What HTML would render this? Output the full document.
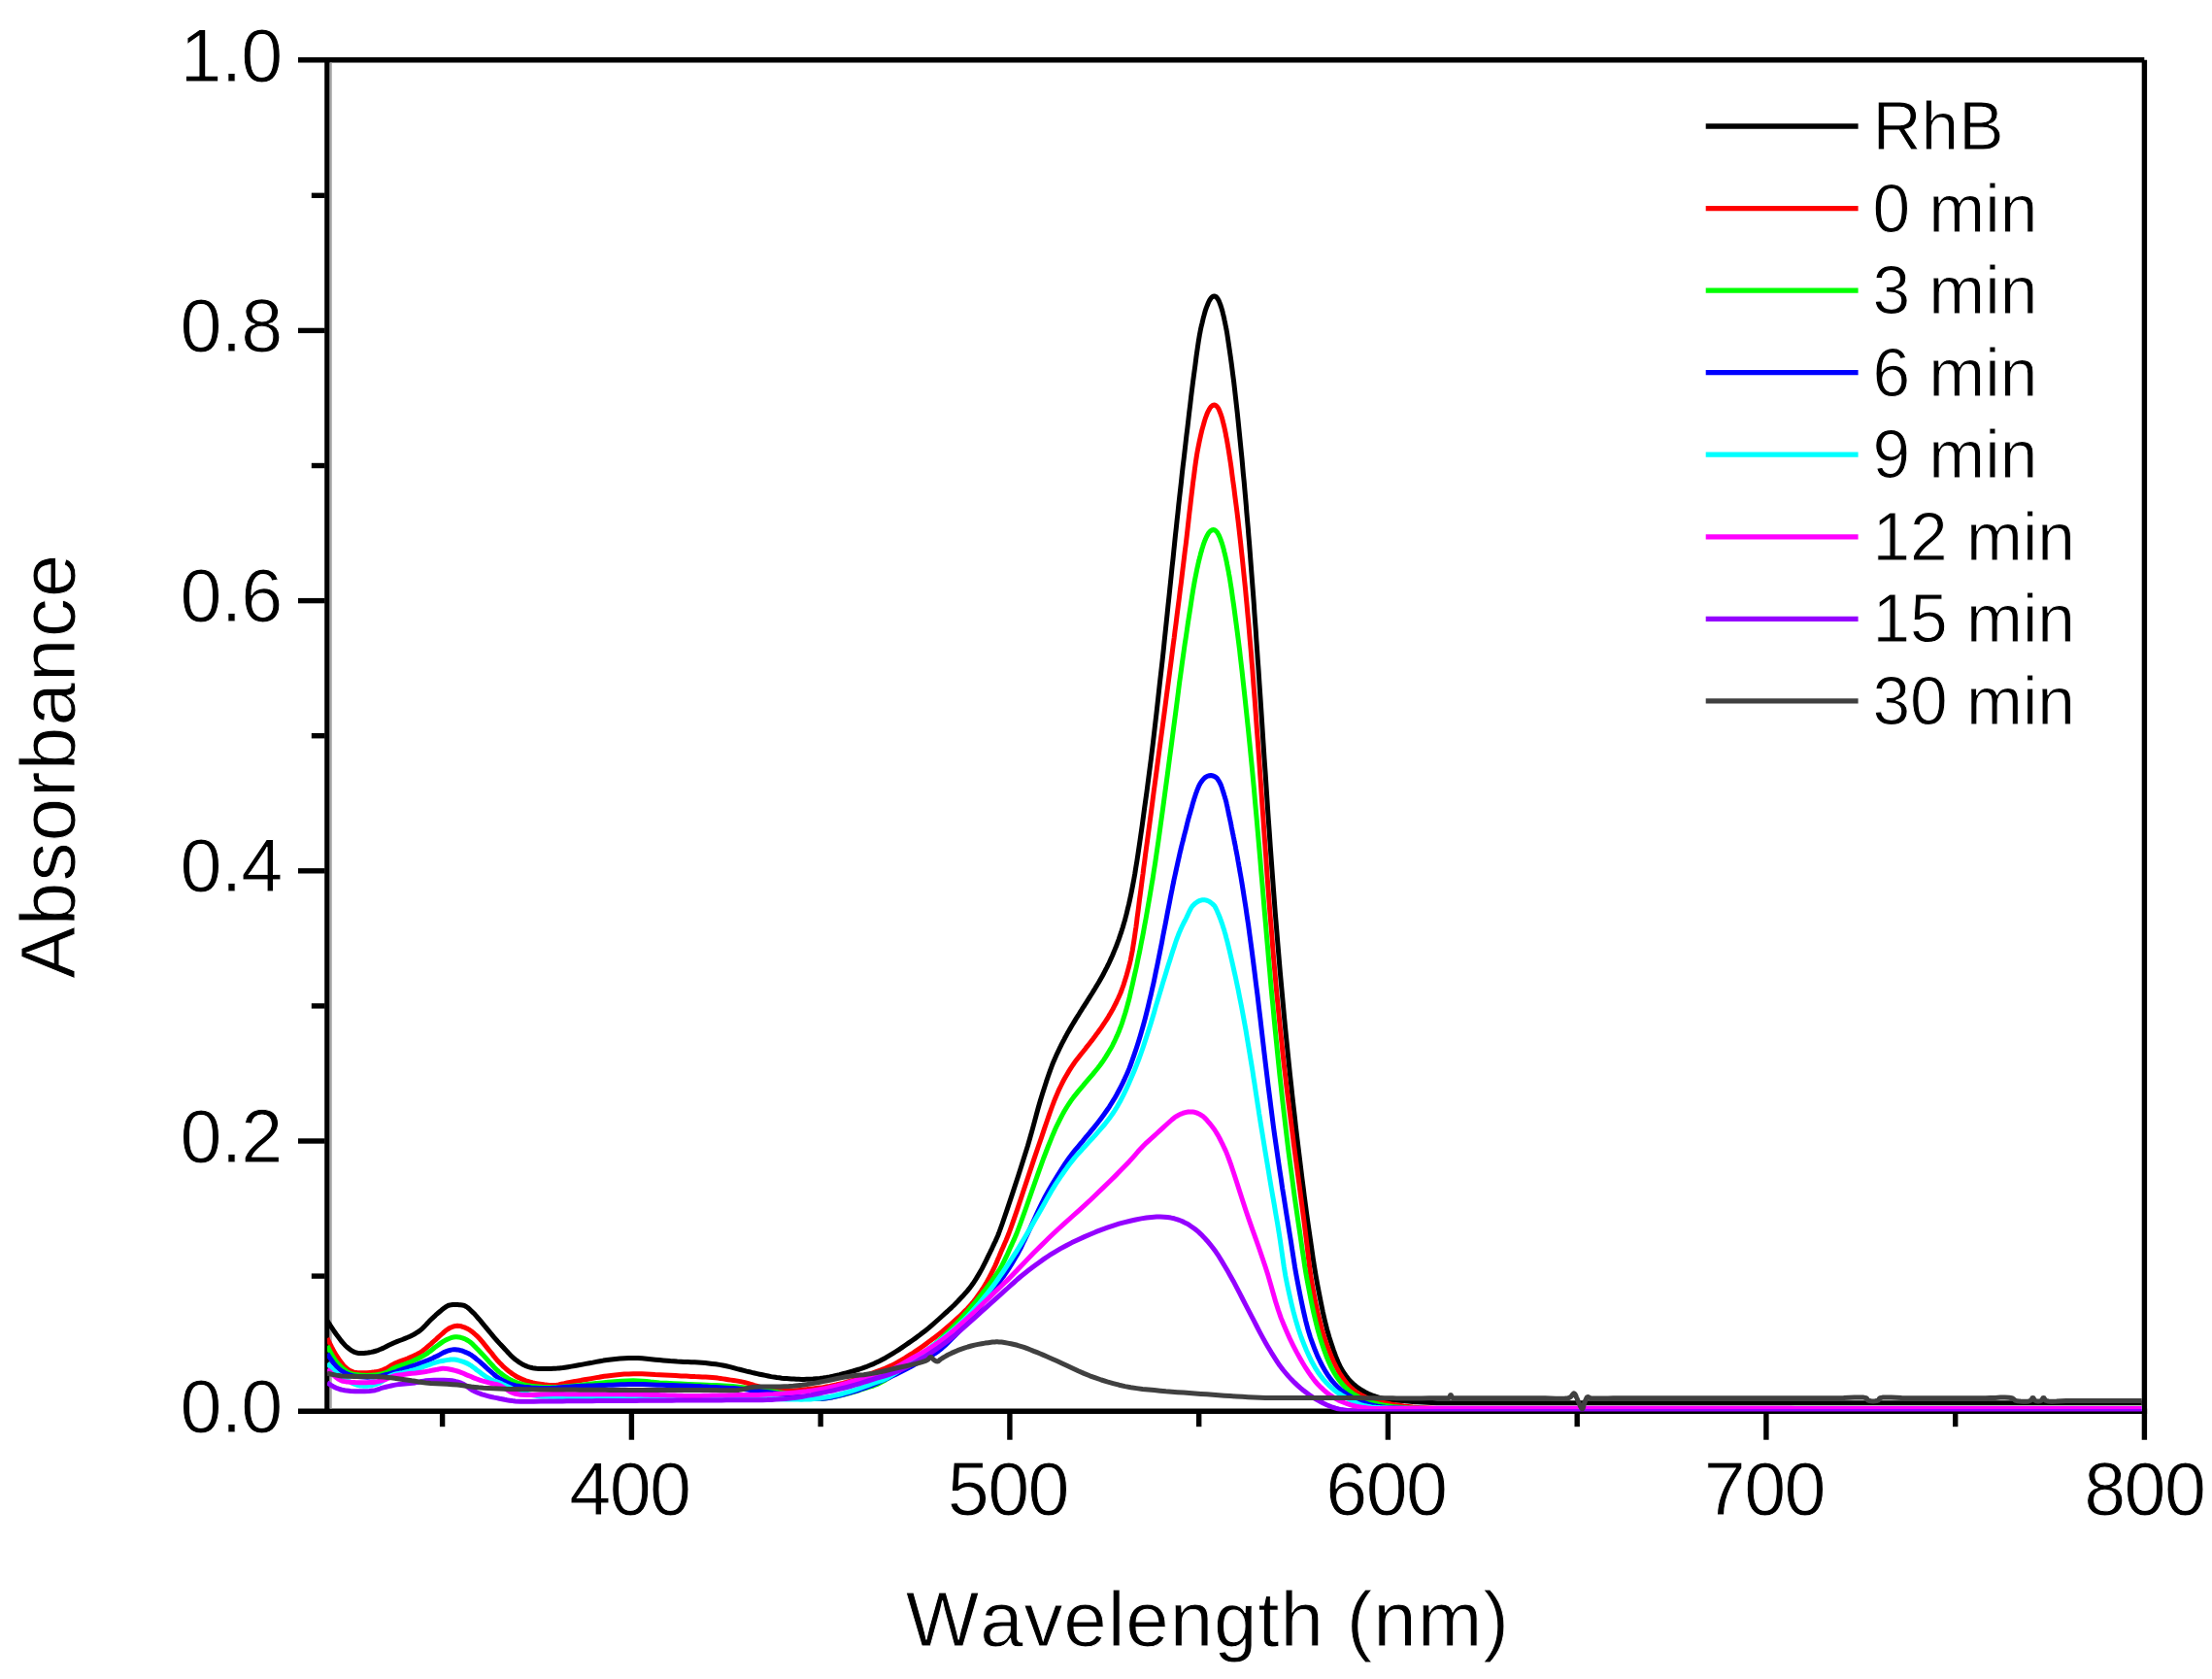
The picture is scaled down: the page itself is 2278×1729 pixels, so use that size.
<!DOCTYPE html>
<html lang="en"><head><meta charset="utf-8"><title>UV-Vis absorbance spectra of RhB degradation</title>
<style>html,body{margin:0;padding:0;background:#fff;}svg{display:block;}text{font-family:"Liberation Sans",sans-serif;fill:#000;}text{stroke:#fff;stroke-width:0.9px;}.tk{font-size:77.3px;}.lg{font-size:69.5px;}.ti{font-size:80px;font-kerning:none;}.ax{stroke:#000;stroke-width:5.4;fill:none;stroke-linecap:butt;}.cv{fill:none;stroke-width:5.0;stroke-linejoin:round;stroke-linecap:butt;}</style></head><body>
<svg width="2278" height="1729" viewBox="0 0 2278 1729">
<rect x="0" y="0" width="2278" height="1729" fill="#ffffff"/>
<defs><clipPath id="plot"><rect x="336.9" y="64.5" width="1868.8" height="1389.1"/></clipPath></defs>
<g class="ax">
<line x1="307" y1="61.8" x2="2208.3" y2="61.8"/>
<line x1="307" y1="1453.25" x2="2211.1" y2="1453.25"/>
<line x1="336.9" y1="61.8" x2="336.9" y2="1453.25"/>
<line x1="2208.4" y1="61.8" x2="2208.4" y2="1482.7"/>
<line x1="320.8" y1="1314.1" x2="334.5" y2="1314.1"/>
<line x1="307" y1="1175.0" x2="334.5" y2="1175.0"/>
<line x1="320.8" y1="1035.9" x2="334.5" y2="1035.9"/>
<line x1="307" y1="896.8" x2="334.5" y2="896.8"/>
<line x1="320.8" y1="757.7" x2="334.5" y2="757.7"/>
<line x1="307" y1="618.6" x2="334.5" y2="618.6"/>
<line x1="320.8" y1="479.5" x2="334.5" y2="479.5"/>
<line x1="307" y1="340.4" x2="334.5" y2="340.4"/>
<line x1="320.8" y1="201.3" x2="334.5" y2="201.3"/>
<line x1="455.6" y1="1455" x2="455.6" y2="1469.2"/>
<line x1="650.4" y1="1455" x2="650.4" y2="1482.7"/>
<line x1="845.1" y1="1455" x2="845.1" y2="1469.2"/>
<line x1="1039.9" y1="1455" x2="1039.9" y2="1482.7"/>
<line x1="1234.7" y1="1455" x2="1234.7" y2="1469.2"/>
<line x1="1429.4" y1="1455" x2="1429.4" y2="1482.7"/>
<line x1="1624.2" y1="1455" x2="1624.2" y2="1469.2"/>
<line x1="1818.9" y1="1455" x2="1818.9" y2="1482.7"/>
<line x1="2013.7" y1="1455" x2="2013.7" y2="1469.2"/>
</g>
<rect x="339.6" y="64.5" width="2.2" height="1386" fill="#a8a8a8"/>
<g class="cv" clip-path="url(#plot)">
<polyline stroke="#000000" points="337.0,1360.0 338.5,1362.3 340.0,1364.7 341.6,1367.1 343.1,1369.4 344.7,1371.7 346.3,1374.0 348.0,1376.3 349.7,1378.6 351.5,1381.0 353.4,1383.2 355.2,1385.2 357.1,1387.0 358.7,1388.3 360.2,1389.5 361.8,1390.6 363.5,1391.6 365.1,1392.4 366.9,1393.0 368.8,1393.4 370.7,1393.6 372.8,1393.6 374.8,1393.4 376.8,1393.2 378.8,1393.0 380.6,1392.7 382.4,1392.4 384.2,1392.0 386.0,1391.5 387.8,1391.0 389.7,1390.3 392.2,1389.3 394.9,1388.1 397.6,1386.7 400.4,1385.3 403.2,1384.0 405.9,1382.7 408.6,1381.6 411.5,1380.5 414.3,1379.5 417.0,1378.4 419.7,1377.3 422.2,1376.2 424.2,1375.2 426.1,1374.2 427.9,1373.2 429.6,1372.1 431.4,1371.0 433.1,1369.7 435.0,1368.1 436.8,1366.3 438.6,1364.4 440.3,1362.5 442.1,1360.6 443.9,1358.8 445.7,1357.1 447.6,1355.4 449.4,1353.6 451.3,1352.0 453.1,1350.5 454.8,1349.1 456.1,1348.1 457.4,1347.1 458.6,1346.2 459.8,1345.4 461.1,1344.7 462.4,1344.2 463.6,1343.9 464.9,1343.7 466.1,1343.6 467.4,1343.5 468.7,1343.6 470.0,1343.6 471.4,1343.6 472.9,1343.7 474.3,1343.7 475.8,1343.9 477.2,1344.2 478.6,1344.7 480.1,1345.5 481.6,1346.5 483.0,1347.7 484.4,1349.0 485.8,1350.4 487.3,1351.8 489.1,1353.6 490.9,1355.6 492.7,1357.8 494.6,1359.9 496.4,1362.1 498.2,1364.3 500.0,1366.5 501.8,1368.6 503.6,1370.8 505.4,1373.0 507.2,1375.2 509.0,1377.3 510.8,1379.3 512.6,1381.4 514.4,1383.4 516.2,1385.3 518.1,1387.3 519.9,1389.2 521.7,1391.1 523.4,1393.0 525.2,1394.9 527.0,1396.7 528.8,1398.4 530.7,1400.0 532.5,1401.3 534.2,1402.6 536.0,1403.7 537.9,1404.8 539.7,1405.8 541.6,1406.6 543.3,1407.3 545.1,1407.8 546.8,1408.3 548.6,1408.7 550.4,1409.0 552.4,1409.3 555.1,1409.5 558.1,1409.6 561.1,1409.6 564.2,1409.5 567.2,1409.4 570.0,1409.3 572.0,1409.2 573.9,1409.1 575.8,1408.9 577.6,1408.7 579.6,1408.5 581.7,1408.2 584.9,1407.7 588.4,1407.1 592.1,1406.5 595.9,1405.8 599.7,1405.1 603.4,1404.4 607.0,1403.7 610.5,1403.1 614.1,1402.4 617.7,1401.7 621.3,1401.1 625.1,1400.6 629.4,1400.1 633.9,1399.5 638.5,1399.1 643.1,1398.7 647.6,1398.5 652.2,1398.4 656.8,1398.5 661.3,1398.8 665.9,1399.3 670.5,1399.7 675.0,1400.2 679.3,1400.6 683.1,1400.9 686.7,1401.2 690.3,1401.5 693.9,1401.7 697.4,1402.0 701.0,1402.2 704.6,1402.4 708.2,1402.5 711.9,1402.7 715.5,1402.8 719.1,1403.0 722.7,1403.3 726.3,1403.6 729.9,1404.0 733.6,1404.4 737.2,1404.8 740.8,1405.4 744.4,1406.0 748.1,1406.8 751.8,1407.6 755.5,1408.6 759.1,1409.6 762.7,1410.5 766.1,1411.4 768.9,1412.1 771.7,1412.7 774.3,1413.4 777.0,1414.0 779.7,1414.6 782.4,1415.2 785.3,1415.8 788.3,1416.4 791.2,1417.0 794.2,1417.6 797.1,1418.1 800.0,1418.5 802.6,1418.8 805.1,1419.2 807.5,1419.4 810.0,1419.6 812.5,1419.8 815.0,1420.0 817.6,1420.1 820.1,1420.3 822.7,1420.3 825.3,1420.4 828.0,1420.4 830.7,1420.3 833.9,1420.2 837.3,1420.0 840.7,1419.7 844.2,1419.4 847.6,1419.0 851.0,1418.5 854.4,1417.9 857.8,1417.2 861.2,1416.4 864.6,1415.6 868.0,1414.7 871.4,1413.8 874.8,1412.9 878.2,1412.0 881.6,1411.0 885.0,1410.0 888.3,1408.9 891.7,1407.7 895.1,1406.3 898.6,1404.9 902.0,1403.3 905.4,1401.7 908.7,1400.0 912.1,1398.2 915.5,1396.2 918.9,1394.2 922.3,1392.0 925.7,1389.8 929.0,1387.6 932.4,1385.3 935.8,1382.9 939.3,1380.5 942.7,1378.1 946.1,1375.6 949.4,1373.0 952.8,1370.4 956.3,1367.6 959.8,1364.6 963.3,1361.5 966.7,1358.5 970.0,1355.5 973.1,1352.7 975.6,1350.5 977.9,1348.3 980.1,1346.3 982.3,1344.2 984.5,1342.0 986.7,1339.8 989.0,1337.3 991.4,1334.8 993.7,1332.2 996.0,1329.6 998.2,1326.9 1000.2,1324.3 1002.0,1321.8 1003.6,1319.4 1005.2,1316.9 1006.7,1314.4 1008.2,1311.9 1009.7,1309.3 1011.2,1306.6 1012.6,1303.9 1014.0,1301.1 1015.4,1298.3 1016.7,1295.6 1017.9,1293.1 1018.9,1291.2 1019.8,1289.3 1020.6,1287.6 1021.5,1285.8 1022.3,1284.0 1023.2,1282.2 1024.0,1280.3 1024.9,1278.6 1025.7,1276.9 1026.5,1275.0 1027.5,1272.7 1028.6,1270.0 1032.4,1259.5 1037.3,1245.1 1042.9,1228.4 1048.6,1211.0 1053.9,1194.3 1058.4,1180.0 1060.9,1171.3 1063.2,1163.1 1065.3,1155.3 1067.3,1147.8 1069.3,1140.5 1071.4,1133.2 1073.4,1126.7 1075.5,1120.2 1077.5,1113.9 1079.6,1107.8 1081.6,1102.2 1083.5,1097.0 1084.8,1093.7 1086.1,1090.7 1087.4,1087.8 1088.6,1085.1 1089.8,1082.6 1090.9,1080.2 1091.6,1078.7 1092.3,1077.4 1092.9,1076.1 1093.5,1074.9 1094.2,1073.6 1094.9,1072.3 1095.8,1070.6 1096.7,1068.8 1097.7,1067.0 1098.7,1065.1 1099.7,1063.3 1100.8,1061.4 1102.0,1059.4 1103.2,1057.3 1104.4,1055.2 1105.7,1053.1 1106.9,1051.1 1108.1,1049.1 1109.2,1047.4 1110.2,1045.8 1111.2,1044.2 1112.1,1042.7 1113.1,1041.2 1114.0,1039.7 1114.8,1038.4 1115.6,1037.2 1116.4,1036.0 1117.1,1034.9 1117.9,1033.7 1118.6,1032.5 1119.4,1031.3 1120.1,1030.1 1120.9,1028.9 1121.6,1027.7 1122.4,1026.5 1123.2,1025.2 1124.3,1023.5 1125.4,1021.7 1126.5,1019.9 1127.7,1018.0 1128.8,1016.1 1129.9,1014.3 1131.0,1012.5 1132.0,1010.8 1133.0,1009.0 1134.0,1007.2 1135.1,1005.4 1136.1,1003.5 1137.3,1001.2 1138.5,998.8 1139.8,996.4 1141.0,993.9 1142.2,991.5 1143.3,989.0 1144.4,986.6 1145.5,984.2 1146.5,981.8 1147.5,979.4 1148.5,976.9 1149.5,974.5 1150.4,972.1 1151.3,969.7 1152.2,967.3 1153.0,964.9 1153.8,962.4 1154.7,960.0 1155.4,957.6 1156.2,955.2 1156.9,952.8 1157.6,950.4 1158.4,947.8 1159.1,945.0 1160.2,940.8 1161.3,936.2 1162.5,931.4 1163.6,926.4 1164.7,921.3 1165.7,916.2 1166.8,910.6 1167.8,905.1 1168.8,899.5 1169.7,893.6 1170.8,887.1 1171.9,880.0 1173.9,866.3 1176.2,850.4 1178.5,833.2 1181.0,815.4 1183.3,797.6 1185.5,780.8 1187.4,765.3 1189.2,749.7 1191.0,734.2 1192.7,719.0 1194.3,704.3 1195.9,690.4 1197.1,679.7 1198.2,669.5 1199.2,659.6 1200.2,649.9 1201.2,640.5 1202.2,631.1 1203.0,622.9 1203.9,614.8 1204.7,607.0 1205.5,599.2 1206.3,591.4 1207.1,583.5 1208.0,575.6 1208.8,567.6 1209.6,559.7 1210.4,551.8 1211.3,543.8 1212.1,535.9 1213.0,528.0 1213.8,520.0 1214.7,512.0 1215.6,504.1 1216.5,496.1 1217.3,488.2 1218.2,480.3 1219.2,472.3 1220.1,464.4 1221.0,456.5 1221.9,448.5 1222.9,440.6 1223.8,432.7 1224.7,424.7 1225.7,416.7 1226.6,408.8 1227.6,400.8 1228.6,392.9 1229.7,384.6 1230.9,375.9 1232.0,367.1 1233.2,358.8 1234.3,351.4 1235.3,345.3 1235.8,342.8 1236.2,340.6 1236.6,338.6 1237.0,336.8 1237.4,335.0 1237.9,333.1 1238.3,331.4 1238.7,329.7 1239.1,328.0 1239.5,326.3 1240.0,324.7 1240.4,323.1 1240.8,321.7 1241.2,320.3 1241.6,319.0 1242.1,317.7 1242.5,316.4 1243.0,315.2 1243.4,314.2 1243.8,313.2 1244.2,312.2 1244.6,311.3 1245.0,310.4 1245.5,309.5 1245.9,308.9 1246.3,308.2 1246.7,307.6 1247.1,307.1 1247.6,306.6 1248.1,306.1 1248.5,305.8 1248.9,305.6 1249.3,305.3 1249.7,305.1 1250.2,305.0 1250.6,305.0 1251.0,305.0 1251.4,305.2 1251.8,305.4 1252.1,305.6 1252.5,305.8 1252.8,306.1 1253.2,306.6 1253.6,307.1 1254.0,307.6 1254.4,308.2 1254.7,308.9 1255.1,309.5 1255.5,310.4 1255.8,311.3 1256.2,312.2 1256.6,313.2 1256.9,314.2 1257.3,315.2 1257.7,316.4 1258.1,317.7 1258.4,319.0 1258.8,320.3 1259.2,321.7 1259.5,323.1 1259.9,324.7 1260.3,326.3 1260.7,328.0 1261.0,329.7 1261.4,331.4 1261.7,333.1 1262.1,335.0 1262.5,336.8 1262.8,338.6 1263.2,340.6 1263.6,342.8 1264.0,345.3 1264.9,351.4 1266.0,358.8 1267.2,367.1 1268.4,375.9 1269.5,384.6 1270.6,392.9 1271.5,400.8 1272.4,408.8 1273.3,416.7 1274.2,424.7 1275.0,432.6 1275.8,440.6 1276.6,448.5 1277.4,456.5 1278.2,464.4 1279.0,472.3 1279.7,480.3 1280.4,488.2 1281.2,496.1 1281.9,504.1 1282.6,512.0 1283.3,520.0 1283.9,528.0 1284.6,535.9 1285.3,543.8 1285.9,551.8 1286.6,559.7 1287.2,567.6 1287.8,575.6 1288.4,583.5 1289.0,591.4 1289.6,599.2 1290.2,607.0 1290.8,614.8 1291.4,622.9 1291.9,631.1 1292.6,640.5 1293.3,649.9 1293.9,659.6 1294.6,669.5 1295.3,679.7 1296.1,690.4 1297.0,704.4 1298.0,719.1 1299.0,734.4 1300.0,750.0 1301.0,765.5 1302.0,780.8 1303.1,795.9 1304.1,811.1 1305.1,826.3 1306.1,841.4 1307.2,856.4 1308.2,871.2 1309.2,885.0 1310.2,898.7 1311.2,912.3 1312.2,925.8 1313.2,939.1 1314.3,952.3 1315.3,964.6 1316.3,976.7 1317.3,988.8 1318.3,1000.7 1319.4,1012.7 1320.5,1024.7 1321.6,1036.8 1322.7,1049.0 1323.9,1061.2 1325.1,1073.3 1326.3,1085.2 1327.5,1097.0 1328.6,1107.8 1329.8,1118.5 1330.9,1129.1 1332.1,1139.5 1333.3,1149.8 1334.4,1160.0 1335.5,1169.3 1336.6,1178.4 1337.7,1187.4 1338.8,1196.3 1339.9,1205.2 1341.0,1214.2 1342.2,1223.3 1343.3,1232.3 1344.5,1241.4 1345.7,1250.4 1347.0,1259.5 1348.3,1268.5 1349.6,1277.5 1350.9,1286.6 1352.2,1295.6 1353.6,1304.7 1355.1,1313.7 1356.7,1322.7 1358.5,1331.9 1360.3,1341.3 1362.2,1350.6 1364.3,1359.8 1366.5,1368.7 1368.9,1377.0 1371.1,1383.7 1373.3,1390.3 1375.6,1396.7 1378.1,1402.7 1380.7,1408.2 1383.6,1413.2 1385.9,1416.5 1388.3,1419.6 1390.7,1422.3 1393.3,1424.8 1396.1,1427.2 1399.0,1429.4 1402.2,1431.5 1405.6,1433.5 1409.2,1435.2 1412.9,1436.8 1416.8,1438.2 1420.7,1439.4 1425.3,1440.5 1430.0,1441.3 1435.0,1441.8 1440.0,1442.2 1445.0,1442.6 1450.0,1443.0 1455.0,1443.4 1460.0,1443.8 1465.0,1444.1 1470.0,1444.3 1475.0,1444.5 1480.0,1444.7 1484.9,1444.8 1489.7,1444.8 1494.6,1444.8 1499.4,1444.8 1504.3,1444.7 1509.1,1444.7 1514.0,1444.7 1518.8,1444.7 1523.7,1444.7 1528.5,1444.7 1533.4,1444.7 1538.2,1444.7 1543.1,1444.7 1547.9,1444.7 1552.8,1444.7 1557.7,1444.7 1562.5,1444.7 1567.4,1444.7 1572.2,1444.7 1577.1,1444.7 1581.9,1444.7 1586.8,1444.7 1591.6,1444.7 1596.5,1444.7 1601.3,1444.7 1606.2,1444.7 1611.0,1444.7 1615.9,1444.7 1620.7,1444.7 1625.6,1444.7 1630.5,1444.7 1635.3,1444.7 1640.2,1444.7 1645.0,1444.7 1649.9,1444.7 1654.7,1444.7 1659.6,1444.7 1664.4,1444.7 1669.3,1444.7 1674.1,1444.7 1679.0,1444.7 1683.8,1444.7 1688.7,1444.7 1693.5,1444.7 1698.4,1444.7 1703.3,1444.7 1708.1,1444.7 1713.0,1444.7 1717.8,1444.7 1722.7,1444.7 1727.5,1444.7 1732.4,1444.7 1737.2,1444.7 1742.1,1444.7 1746.9,1444.7 1751.8,1444.7 1756.6,1444.7 1761.5,1444.7 1766.3,1444.7 1771.2,1444.7 1776.1,1444.7 1780.9,1444.7 1785.8,1444.7 1790.6,1444.7 1795.5,1444.7 1800.3,1444.7 1805.2,1444.7 1810.0,1444.7 1814.9,1444.7 1819.7,1444.7 1824.6,1444.7 1829.4,1444.7 1834.3,1444.7 1839.1,1444.7 1844.0,1444.7 1848.9,1444.7 1853.7,1444.7 1858.6,1444.7 1863.4,1444.7 1868.3,1444.7 1873.1,1444.7 1878.0,1444.7 1882.8,1444.7 1887.7,1444.7 1892.5,1444.7 1897.4,1444.7 1902.2,1444.7 1907.1,1444.7 1911.9,1444.7 1916.8,1444.7 1921.7,1444.7 1926.5,1444.7 1931.4,1444.7 1936.2,1444.7 1941.1,1444.7 1945.9,1444.7 1950.8,1444.7 1955.6,1444.7 1960.5,1444.7 1965.3,1444.7 1970.2,1444.7 1975.0,1444.7 1979.9,1444.7 1984.7,1444.7 1989.6,1444.7 1994.5,1444.7 1999.3,1444.7 2004.2,1444.7 2009.0,1444.7 2013.9,1444.7 2018.7,1444.7 2023.6,1444.7 2028.4,1444.7 2033.3,1444.7 2038.1,1444.7 2043.0,1444.7 2047.8,1444.7 2052.7,1444.7 2057.5,1444.7 2062.4,1444.7 2067.3,1444.7 2072.1,1444.7 2077.0,1444.7 2081.8,1444.7 2086.7,1444.7 2091.5,1444.7 2096.4,1444.7 2101.2,1444.7 2106.1,1444.7 2110.9,1444.7 2115.8,1444.7 2120.6,1444.7 2125.5,1444.7 2130.3,1444.7 2135.2,1444.7 2140.1,1444.7 2144.9,1444.7 2149.8,1444.7 2154.6,1444.7 2159.5,1444.7 2164.3,1444.7 2169.2,1444.7 2174.0,1444.7 2178.9,1444.7 2183.7,1444.7 2188.6,1444.7 2193.4,1444.7 2198.3,1444.7 2203.1,1444.7 2208.0,1444.7"/>
<polyline stroke="#ff0000" points="337.0,1378.0 338.5,1381.0 340.0,1384.0 341.5,1387.1 343.0,1390.0 344.6,1392.9 346.3,1395.7 348.0,1398.2 349.7,1400.8 351.6,1403.3 353.4,1405.6 355.3,1407.6 357.1,1409.3 358.3,1410.2 359.5,1411.0 360.6,1411.7 361.9,1412.2 363.2,1412.7 364.7,1413.1 367.5,1413.5 370.7,1413.8 374.2,1413.8 377.8,1413.7 381.2,1413.4 384.2,1413.1 386.2,1412.8 388.1,1412.5 389.9,1412.1 391.6,1411.6 393.4,1411.0 395.1,1410.4 396.9,1409.6 398.7,1408.6 400.4,1407.6 402.1,1406.5 404.0,1405.4 405.9,1404.4 408.4,1403.3 411.2,1402.2 414.0,1401.1 416.9,1400.0 419.6,1399.0 422.2,1397.9 424.2,1397.0 426.0,1396.2 427.8,1395.4 429.6,1394.5 431.4,1393.6 433.1,1392.5 435.0,1391.2 436.8,1389.9 438.6,1388.4 440.3,1386.9 442.1,1385.3 443.9,1383.8 445.7,1382.2 447.6,1380.5 449.5,1378.8 451.3,1377.1 453.1,1375.5 454.8,1374.0 456.1,1372.9 457.4,1371.7 458.6,1370.7 459.8,1369.7 461.1,1368.8 462.4,1368.0 463.7,1367.3 465.1,1366.7 466.6,1366.1 468.0,1365.7 469.5,1365.4 471.0,1365.3 472.8,1365.4 474.6,1365.7 476.4,1366.3 478.3,1366.9 480.1,1367.7 481.9,1368.6 483.8,1369.7 485.6,1371.0 487.4,1372.4 489.2,1374.0 491.0,1375.6 492.7,1377.3 494.6,1379.3 496.4,1381.4 498.2,1383.6 500.0,1385.8 501.8,1388.1 503.6,1390.3 505.4,1392.5 507.2,1394.7 508.9,1397.0 510.7,1399.2 512.5,1401.3 514.4,1403.3 516.2,1405.1 517.9,1406.8 519.8,1408.5 521.6,1410.1 523.4,1411.7 525.3,1413.1 527.1,1414.4 528.8,1415.5 530.6,1416.7 532.4,1417.7 534.3,1418.7 536.1,1419.6 537.9,1420.4 539.7,1421.1 541.5,1421.8 543.3,1422.3 545.2,1422.9 547.0,1423.4 548.8,1423.9 550.6,1424.3 552.3,1424.6 554.1,1424.9 556.0,1425.2 557.8,1425.5 559.8,1425.8 561.7,1426.1 563.7,1426.3 565.8,1426.5 567.8,1426.6 570.0,1426.6 572.7,1426.4 575.4,1425.9 578.2,1425.3 581.1,1424.7 584.1,1424.0 587.1,1423.4 590.6,1422.8 594.3,1422.1 598.0,1421.5 601.7,1420.8 605.3,1420.2 608.8,1419.6 611.6,1419.1 614.2,1418.6 616.8,1418.2 619.4,1417.7 622.2,1417.3 625.1,1416.9 629.2,1416.4 633.6,1415.9 638.2,1415.5 642.9,1415.1 647.6,1414.9 652.2,1414.7 656.7,1414.7 661.1,1414.8 665.6,1415.0 670.1,1415.3 674.6,1415.6 679.3,1415.8 684.6,1416.0 690.2,1416.3 695.8,1416.6 701.4,1416.9 706.8,1417.1 711.9,1417.4 715.8,1417.6 719.6,1417.7 723.2,1417.9 726.8,1418.0 730.2,1418.2 733.6,1418.5 736.5,1418.8 739.2,1419.1 741.9,1419.5 744.6,1419.9 747.2,1420.3 749.9,1420.7 752.6,1421.1 755.4,1421.5 758.2,1421.9 761.0,1422.4 763.6,1422.9 766.1,1423.4 768.0,1423.9 769.8,1424.4 771.5,1424.9 773.2,1425.5 775.0,1426.0 777.0,1426.6 779.9,1427.4 783.0,1428.3 786.3,1429.3 789.6,1430.1 792.9,1430.9 796.0,1431.5 798.7,1431.9 801.4,1432.1 804.0,1432.3 806.6,1432.3 809.3,1432.3 812.0,1432.3 815.0,1432.2 818.1,1432.0 821.2,1431.7 824.4,1431.4 827.5,1431.1 830.7,1430.7 834.0,1430.3 837.4,1429.9 840.8,1429.5 844.2,1429.1 847.6,1428.6 851.0,1428.0 854.4,1427.4 857.8,1426.7 861.2,1426.0 864.6,1425.2 868.0,1424.4 871.4,1423.5 874.8,1422.5 878.2,1421.4 881.5,1420.2 884.9,1419.0 888.3,1417.7 891.7,1416.5 895.4,1415.2 899.1,1413.8 902.9,1412.4 906.6,1411.0 910.2,1409.7 913.4,1408.3 915.6,1407.3 917.7,1406.4 919.6,1405.4 921.5,1404.5 923.5,1403.4 925.6,1402.2 928.7,1400.4 932.1,1398.4 935.5,1396.2 939.1,1394.0 942.6,1391.7 946.0,1389.4 949.4,1387.0 952.8,1384.6 956.2,1382.1 959.6,1379.6 963.0,1377.0 966.3,1374.4 969.8,1371.6 973.3,1368.6 976.8,1365.6 980.3,1362.6 983.6,1359.7 986.7,1356.8 989.2,1354.5 991.5,1352.3 993.7,1350.1 995.9,1347.9 998.1,1345.6 1000.2,1343.2 1002.6,1340.3 1005.0,1337.2 1007.3,1334.0 1009.6,1330.8 1011.8,1327.5 1013.8,1324.3 1015.6,1321.4 1017.2,1318.4 1018.8,1315.5 1020.3,1312.6 1021.8,1309.6 1023.3,1306.6 1024.8,1303.5 1026.2,1300.3 1027.5,1297.1 1028.9,1293.9 1030.2,1290.7 1031.5,1287.6 1032.8,1284.8 1033.9,1282.2 1035.0,1279.6 1036.2,1276.9 1037.5,1273.7 1039.0,1270.0 1043.1,1258.7 1048.1,1244.1 1053.6,1227.5 1059.3,1210.4 1064.7,1194.1 1069.5,1180.0 1072.6,1171.1 1075.5,1162.4 1078.3,1154.3 1080.9,1146.6 1083.5,1139.5 1085.9,1133.2 1087.3,1129.7 1088.7,1126.5 1089.9,1123.6 1091.2,1120.8 1092.6,1118.0 1094.0,1115.1 1095.6,1112.0 1097.3,1109.0 1099.1,1105.9 1100.9,1102.9 1102.8,1099.9 1104.7,1097.0 1106.7,1094.1 1109.0,1091.1 1111.2,1088.2 1113.5,1085.3 1115.6,1082.7 1117.6,1080.2 1118.8,1078.6 1120.0,1077.1 1121.1,1075.7 1122.1,1074.4 1123.2,1073.0 1124.3,1071.6 1125.4,1070.2 1126.5,1068.7 1127.6,1067.3 1128.7,1065.8 1129.7,1064.4 1130.8,1062.9 1131.8,1061.5 1132.9,1060.0 1133.9,1058.6 1134.9,1057.2 1135.9,1055.7 1136.9,1054.2 1138.0,1052.5 1139.2,1050.7 1140.4,1048.8 1141.5,1047.0 1142.6,1045.1 1143.7,1043.3 1144.7,1041.5 1145.7,1039.8 1146.7,1038.0 1147.6,1036.2 1148.5,1034.4 1149.5,1032.5 1150.5,1030.3 1151.6,1028.0 1152.6,1025.7 1153.7,1023.3 1154.7,1020.8 1155.7,1018.0 1157.2,1013.8 1158.7,1009.1 1160.2,1004.2 1161.6,999.1 1163.0,994.0 1164.2,989.0 1165.2,984.1 1166.2,979.0 1167.0,973.9 1167.8,969.0 1168.5,964.3 1169.1,960.0 1169.5,957.3 1169.9,954.8 1170.2,952.5 1170.5,950.2 1170.8,947.7 1171.1,945.0 1171.7,940.8 1172.3,936.2 1172.9,931.4 1173.5,926.4 1174.2,921.3 1174.9,916.2 1175.6,910.6 1176.3,905.1 1177.1,899.5 1177.8,893.5 1178.7,887.1 1179.6,880.0 1181.5,866.2 1183.6,850.4 1185.9,833.2 1188.2,815.3 1190.6,797.6 1192.8,780.8 1194.9,765.1 1197.1,749.0 1199.2,733.1 1201.2,717.7 1203.1,703.3 1204.8,690.4 1205.8,682.8 1206.7,675.9 1207.5,669.5 1208.3,663.2 1209.2,656.8 1210.0,650.0 1211.1,641.9 1212.1,633.5 1213.2,625.0 1214.3,616.5 1215.3,608.1 1216.4,600.0 1217.2,593.1 1218.0,586.5 1218.8,580.0 1219.6,573.4 1220.4,566.8 1221.3,560.0 1222.2,552.2 1223.1,544.2 1224.0,536.1 1224.9,527.9 1225.9,519.9 1226.8,512.0 1227.7,504.6 1228.6,497.0 1229.6,489.6 1230.5,482.4 1231.4,475.8 1232.3,470.0 1232.8,466.9 1233.3,464.1 1233.8,461.5 1234.3,459.0 1234.8,456.6 1235.3,454.1 1235.8,451.8 1236.3,449.5 1236.8,447.3 1237.3,445.1 1237.8,443.0 1238.4,440.9 1238.9,439.1 1239.4,437.3 1239.9,435.5 1240.4,433.8 1240.9,432.1 1241.4,430.5 1241.9,429.2 1242.4,427.8 1242.9,426.5 1243.4,425.3 1243.9,424.1 1244.5,423.0 1245.0,422.2 1245.4,421.3 1245.9,420.5 1246.4,419.7 1247.0,419.1 1247.5,418.5 1248.0,418.1 1248.5,417.7 1249.0,417.4 1249.6,417.2 1250.1,417.0 1250.6,417.0 1251.1,417.1 1251.6,417.3 1252.2,417.7 1252.7,418.1 1253.2,418.5 1253.6,419.0 1254.2,419.8 1254.8,420.7 1255.3,421.8 1255.7,422.8 1256.2,424.0 1256.7,425.2 1257.2,426.7 1257.8,428.3 1258.3,429.9 1258.8,431.7 1259.2,433.5 1259.7,435.3 1260.2,437.5 1260.8,439.7 1261.3,442.0 1261.8,444.4 1262.3,446.8 1262.7,449.3 1263.3,452.1 1263.8,455.0 1264.3,457.9 1264.8,460.9 1265.3,463.9 1265.8,467.0 1266.3,470.3 1266.8,473.6 1267.3,476.9 1267.8,480.4 1268.3,484.1 1268.8,488.2 1269.7,495.0 1270.8,502.7 1271.8,510.9 1272.9,519.3 1274.0,527.7 1275.0,535.9 1275.9,543.8 1276.8,551.8 1277.7,559.7 1278.5,567.6 1279.4,575.6 1280.2,583.5 1281.0,591.4 1281.8,599.2 1282.6,607.0 1283.3,614.8 1284.1,622.9 1284.8,631.1 1285.7,640.5 1286.5,649.9 1287.3,659.6 1288.2,669.5 1289.0,679.7 1289.9,690.4 1290.9,704.4 1292.1,719.1 1293.2,734.4 1294.3,750.0 1295.5,765.5 1296.6,780.8 1297.6,795.9 1298.7,811.1 1299.7,826.3 1300.8,841.4 1301.8,856.4 1302.9,871.2 1303.9,885.0 1304.8,898.7 1305.8,912.3 1306.8,925.8 1307.8,939.1 1308.9,952.3 1309.9,964.6 1310.8,976.7 1311.8,988.8 1312.9,1000.7 1313.9,1012.7 1315.0,1024.7 1316.2,1036.8 1317.4,1049.0 1318.6,1061.2 1319.9,1073.3 1321.1,1085.2 1322.4,1097.0 1323.7,1107.8 1324.9,1118.5 1326.2,1129.1 1327.5,1139.5 1328.8,1149.8 1330.1,1160.0 1331.3,1169.3 1332.4,1178.4 1333.6,1187.4 1334.8,1196.3 1336.0,1205.2 1337.2,1214.2 1338.4,1223.2 1339.6,1232.3 1340.8,1241.3 1342.0,1250.4 1343.2,1259.5 1344.3,1268.5 1345.4,1277.5 1346.5,1286.6 1347.5,1295.6 1348.6,1304.7 1349.8,1313.7 1351.3,1322.7 1353.0,1331.9 1354.8,1341.3 1356.8,1350.6 1359.0,1359.8 1361.3,1368.7 1363.8,1377.0 1366.0,1383.7 1368.4,1390.2 1370.9,1396.5 1373.5,1402.5 1376.3,1408.1 1379.1,1413.2 1381.3,1416.8 1383.6,1420.1 1385.9,1423.2 1388.3,1426.1 1390.9,1428.7 1393.6,1431.2 1396.4,1433.3 1399.4,1435.3 1402.5,1437.0 1405.7,1438.6 1408.7,1440.0 1411.7,1441.2 1413.9,1442.0 1416.1,1442.6 1418.2,1443.1 1420.3,1443.6 1422.5,1444.0 1425.0,1444.5 1428.7,1445.2 1432.7,1446.0 1436.9,1446.7 1441.2,1447.3 1445.6,1448.0 1450.0,1448.5 1454.8,1449.0 1459.8,1449.4 1464.8,1449.8 1469.9,1450.1 1475.0,1450.3 1480.0,1450.5 1484.9,1450.6 1489.7,1450.6 1494.6,1450.6 1499.4,1450.6 1504.3,1450.5 1509.1,1450.5 1514.0,1450.5 1518.8,1450.5 1523.7,1450.5 1528.5,1450.5 1533.4,1450.5 1538.2,1450.5 1543.1,1450.5 1547.9,1450.5 1552.8,1450.5 1557.7,1450.5 1562.5,1450.5 1567.4,1450.5 1572.2,1450.5 1577.1,1450.5 1581.9,1450.5 1586.8,1450.5 1591.6,1450.5 1596.5,1450.5 1601.3,1450.5 1606.2,1450.5 1611.0,1450.5 1615.9,1450.5 1620.7,1450.5 1625.6,1450.5 1630.5,1450.5 1635.3,1450.5 1640.2,1450.5 1645.0,1450.5 1649.9,1450.5 1654.7,1450.5 1659.6,1450.5 1664.4,1450.5 1669.3,1450.5 1674.1,1450.5 1679.0,1450.5 1683.8,1450.5 1688.7,1450.5 1693.5,1450.5 1698.4,1450.5 1703.3,1450.5 1708.1,1450.5 1713.0,1450.5 1717.8,1450.5 1722.7,1450.5 1727.5,1450.5 1732.4,1450.5 1737.2,1450.5 1742.1,1450.5 1746.9,1450.5 1751.8,1450.5 1756.6,1450.5 1761.5,1450.5 1766.3,1450.5 1771.2,1450.5 1776.1,1450.5 1780.9,1450.5 1785.8,1450.5 1790.6,1450.5 1795.5,1450.5 1800.3,1450.5 1805.2,1450.5 1810.0,1450.5 1814.9,1450.5 1819.7,1450.5 1824.6,1450.5 1829.4,1450.5 1834.3,1450.5 1839.1,1450.5 1844.0,1450.5 1848.9,1450.5 1853.7,1450.5 1858.6,1450.5 1863.4,1450.5 1868.3,1450.5 1873.1,1450.5 1878.0,1450.5 1882.8,1450.5 1887.7,1450.5 1892.5,1450.5 1897.4,1450.5 1902.2,1450.5 1907.1,1450.5 1911.9,1450.5 1916.8,1450.5 1921.7,1450.5 1926.5,1450.5 1931.4,1450.5 1936.2,1450.5 1941.1,1450.5 1945.9,1450.5 1950.8,1450.5 1955.6,1450.5 1960.5,1450.5 1965.3,1450.5 1970.2,1450.5 1975.0,1450.5 1979.9,1450.5 1984.7,1450.5 1989.6,1450.5 1994.5,1450.5 1999.3,1450.5 2004.2,1450.5 2009.0,1450.5 2013.9,1450.5 2018.7,1450.5 2023.6,1450.5 2028.4,1450.5 2033.3,1450.5 2038.1,1450.5 2043.0,1450.5 2047.8,1450.5 2052.7,1450.5 2057.5,1450.5 2062.4,1450.5 2067.3,1450.5 2072.1,1450.5 2077.0,1450.5 2081.8,1450.5 2086.7,1450.5 2091.5,1450.5 2096.4,1450.5 2101.2,1450.5 2106.1,1450.5 2110.9,1450.5 2115.8,1450.5 2120.6,1450.5 2125.5,1450.5 2130.3,1450.5 2135.2,1450.5 2140.1,1450.5 2144.9,1450.5 2149.8,1450.5 2154.6,1450.5 2159.5,1450.5 2164.3,1450.5 2169.2,1450.5 2174.0,1450.5 2178.9,1450.5 2183.7,1450.5 2188.6,1450.5 2193.4,1450.5 2198.3,1450.5 2203.1,1450.5 2208.0,1450.5"/>
<polyline stroke="#00ff00" points="337.0,1386.0 338.5,1388.8 339.9,1391.6 341.4,1394.4 342.9,1397.1 344.5,1399.8 346.3,1402.2 348.2,1404.4 350.3,1406.6 352.5,1408.7 354.8,1410.6 357.1,1412.3 359.3,1413.6 361.0,1414.4 362.8,1414.9 364.5,1415.3 366.3,1415.6 368.1,1415.8 370.0,1416.0 372.4,1416.2 374.9,1416.3 377.4,1416.4 380.0,1416.3 382.6,1416.2 385.0,1416.0 387.2,1415.8 389.3,1415.5 391.4,1415.1 393.5,1414.7 395.4,1414.2 397.3,1413.6 398.8,1412.9 400.2,1412.1 401.5,1411.3 402.9,1410.4 404.3,1409.5 405.9,1408.7 408.3,1407.7 410.9,1406.8 413.7,1405.8 416.6,1404.9 419.4,1403.9 422.2,1402.8 425.0,1401.6 427.8,1400.3 430.6,1398.9 433.4,1397.5 436.0,1396.1 438.5,1394.6 440.5,1393.3 442.3,1391.9 444.1,1390.6 445.8,1389.2 447.5,1387.8 449.3,1386.5 451.1,1385.2 452.9,1383.9 454.7,1382.6 456.5,1381.4 458.4,1380.3 460.2,1379.4 461.9,1378.7 463.6,1378.0 465.3,1377.4 467.0,1377.0 468.8,1376.8 470.5,1376.7 472.4,1376.9 474.3,1377.3 476.3,1377.9 478.2,1378.6 480.1,1379.5 481.9,1380.5 483.8,1381.8 485.7,1383.3 487.4,1384.9 489.2,1386.7 490.9,1388.5 492.7,1390.3 494.5,1392.2 496.4,1394.2 498.2,1396.2 500.0,1398.2 501.8,1400.2 503.6,1402.2 505.4,1404.1 507.2,1406.0 508.9,1407.9 510.7,1409.7 512.5,1411.5 514.4,1413.1 516.2,1414.5 517.9,1415.9 519.8,1417.2 521.6,1418.5 523.4,1419.6 525.3,1420.7 527.1,1421.6 528.8,1422.4 530.6,1423.1 532.5,1423.8 534.3,1424.4 536.1,1425.0 537.8,1425.5 539.6,1425.9 541.3,1426.3 543.0,1426.6 544.9,1426.9 547.0,1427.2 550.4,1427.6 554.1,1427.9 558.1,1428.2 562.2,1428.4 566.2,1428.5 570.0,1428.5 573.3,1428.4 576.5,1428.3 579.6,1428.1 582.8,1427.8 586.0,1427.5 589.3,1427.2 593.2,1426.8 597.2,1426.4 601.2,1425.9 605.4,1425.4 609.7,1424.9 614.2,1424.5 620.1,1423.9 626.5,1423.3 633.1,1422.8 639.7,1422.3 646.1,1421.9 652.2,1421.8 656.9,1421.9 661.3,1422.2 665.6,1422.6 670.0,1423.1 674.5,1423.5 679.3,1423.9 686.1,1424.3 693.4,1424.7 701.0,1425.1 708.6,1425.5 715.9,1425.8 722.7,1426.1 727.6,1426.3 732.3,1426.4 736.8,1426.6 741.2,1426.7 745.5,1426.9 749.9,1427.2 754.2,1427.6 758.5,1428.0 762.7,1428.5 766.9,1429.0 771.0,1429.5 775.0,1430.0 778.5,1430.4 781.8,1430.8 785.1,1431.2 788.4,1431.7 791.7,1432.1 795.0,1432.6 798.4,1433.1 801.8,1433.7 805.2,1434.2 808.6,1434.8 811.8,1435.4 815.0,1436.0 817.6,1436.5 820.1,1437.1 822.6,1437.6 825.0,1438.1 827.5,1438.6 830.0,1439.0 832.7,1439.4 835.5,1439.7 838.2,1440.0 841.1,1440.2 844.0,1440.3 847.0,1440.2 850.9,1439.8 854.9,1439.2 859.1,1438.4 863.3,1437.5 867.4,1436.5 871.4,1435.5 875.0,1434.6 878.5,1433.6 881.9,1432.5 885.3,1431.5 888.6,1430.4 891.7,1429.4 894.1,1428.6 896.4,1427.9 898.6,1427.3 900.7,1426.5 903.0,1425.7 905.3,1424.6 908.5,1422.9 911.8,1421.0 915.3,1418.8 918.7,1416.6 922.2,1414.3 925.6,1412.0 929.0,1409.8 932.4,1407.5 935.9,1405.2 939.3,1402.9 942.6,1400.5 946.0,1398.0 949.4,1395.3 952.9,1392.6 956.2,1389.8 959.6,1386.9 963.0,1384.0 966.3,1381.0 969.8,1377.8 973.3,1374.4 976.8,1371.0 980.3,1367.6 983.6,1364.2 986.7,1361.0 989.2,1358.4 991.5,1355.8 993.8,1353.3 996.0,1350.8 998.1,1348.4 1000.2,1346.0 1001.9,1343.9 1003.6,1342.0 1005.2,1340.0 1006.8,1338.0 1008.4,1336.0 1010.0,1334.0 1011.8,1331.8 1013.5,1329.5 1015.3,1327.3 1017.1,1325.0 1018.9,1322.6 1020.6,1320.2 1022.4,1317.6 1024.3,1315.0 1026.1,1312.3 1027.9,1309.6 1029.7,1306.8 1031.4,1303.9 1033.1,1300.6 1034.8,1297.2 1036.5,1293.7 1038.1,1290.2 1039.6,1286.8 1041.0,1283.6 1042.1,1281.3 1043.0,1279.3 1043.9,1277.4 1044.8,1275.4 1045.8,1273.0 1047.1,1270.0 1051.2,1259.0 1056.6,1244.0 1062.6,1226.8 1068.8,1209.2 1074.6,1193.0 1079.6,1180.0 1082.0,1174.1 1084.1,1168.9 1086.2,1164.1 1088.2,1159.6 1090.3,1155.4 1092.4,1151.2 1094.1,1147.9 1095.8,1144.8 1097.6,1141.8 1099.3,1139.0 1101.2,1136.1 1103.2,1133.2 1105.4,1130.1 1107.8,1127.1 1110.2,1124.1 1112.7,1121.1 1115.3,1118.1 1117.7,1115.1 1120.3,1112.1 1122.9,1109.1 1125.5,1106.1 1128.0,1103.0 1130.5,1100.0 1132.8,1097.0 1134.8,1094.2 1136.8,1091.3 1138.7,1088.4 1140.4,1085.6 1142.1,1082.8 1143.6,1080.2 1144.8,1078.2 1145.8,1076.3 1146.7,1074.4 1147.6,1072.6 1148.5,1070.7 1149.4,1068.7 1150.5,1066.4 1151.5,1064.1 1152.5,1061.7 1153.4,1059.2 1154.4,1056.7 1155.4,1054.0 1156.5,1050.6 1157.6,1047.0 1158.8,1043.3 1159.9,1039.5 1160.9,1035.9 1161.8,1032.5 1162.5,1030.0 1163.1,1027.7 1163.6,1025.4 1164.1,1023.1 1164.7,1020.7 1165.3,1018.0 1166.3,1013.7 1167.3,1009.1 1168.4,1004.1 1169.6,999.0 1170.7,994.0 1171.7,989.0 1172.7,984.2 1173.7,979.6 1174.6,974.9 1175.5,970.1 1176.5,965.2 1177.5,960.0 1178.7,953.2 1180.1,945.9 1181.4,938.4 1182.7,930.8 1184.0,923.4 1185.2,916.2 1186.2,910.2 1187.2,904.5 1188.0,899.0 1188.9,893.3 1189.9,887.0 1190.9,880.0 1192.9,866.3 1195.1,850.4 1197.5,833.2 1199.9,815.3 1202.3,797.6 1204.5,780.8 1206.6,765.1 1208.7,749.0 1210.8,733.1 1212.8,717.7 1214.6,703.3 1216.4,690.4 1217.4,682.8 1218.4,675.9 1219.3,669.5 1220.2,663.2 1221.2,656.8 1222.2,650.0 1223.4,641.7 1224.8,632.7 1226.2,623.6 1227.5,614.8 1228.8,606.8 1230.0,600.0 1230.6,596.7 1231.2,593.8 1231.7,591.2 1232.2,588.7 1232.7,586.2 1233.3,583.7 1233.8,581.3 1234.3,579.0 1234.9,576.7 1235.4,574.5 1236.0,572.3 1236.5,570.1 1237.1,568.3 1237.6,566.4 1238.1,564.6 1238.7,562.8 1239.2,561.1 1239.8,559.4 1240.3,558.0 1240.8,556.7 1241.4,555.4 1241.9,554.1 1242.5,552.9 1243.1,551.7 1243.6,550.8 1244.1,549.9 1244.6,549.1 1245.2,548.3 1245.7,547.6 1246.3,547.1 1246.8,546.7 1247.4,546.3 1247.9,546.0 1248.5,545.7 1249.1,545.5 1249.6,545.5 1250.1,545.6 1250.6,545.7 1251.1,546.0 1251.6,546.3 1252.1,546.7 1252.5,547.1 1253.1,547.6 1253.6,548.3 1254.1,549.1 1254.5,549.9 1255.0,550.8 1255.4,551.7 1256.0,552.9 1256.5,554.1 1257.0,555.4 1257.4,556.7 1257.9,558.0 1258.4,559.4 1258.9,561.1 1259.4,562.8 1259.9,564.6 1260.4,566.4 1260.8,568.3 1261.3,570.1 1261.8,572.3 1262.3,574.5 1262.8,576.7 1263.3,579.0 1263.7,581.3 1264.2,583.7 1264.7,586.2 1265.2,588.7 1265.6,591.2 1266.1,593.8 1266.6,596.7 1267.1,600.0 1268.2,606.8 1269.3,614.8 1270.6,623.6 1271.8,632.7 1273.0,641.7 1274.1,650.0 1275.0,656.8 1275.8,663.2 1276.6,669.5 1277.3,675.9 1278.1,682.8 1279.0,690.4 1280.4,703.4 1282.0,717.9 1283.6,733.3 1285.3,749.3 1286.9,765.3 1288.4,780.8 1289.9,795.9 1291.3,811.1 1292.6,826.3 1294.0,841.4 1295.3,856.4 1296.6,871.2 1297.8,885.0 1298.9,898.7 1300.1,912.3 1301.2,925.8 1302.3,939.1 1303.5,952.3 1304.5,964.6 1305.6,976.7 1306.6,988.8 1307.7,1000.7 1308.7,1012.7 1309.8,1024.7 1311.0,1036.8 1312.1,1049.0 1313.3,1061.2 1314.5,1073.3 1315.7,1085.2 1316.9,1097.0 1318.0,1107.8 1319.2,1118.5 1320.3,1129.1 1321.5,1139.5 1322.7,1149.8 1323.9,1160.0 1325.0,1169.3 1326.1,1178.4 1327.2,1187.4 1328.4,1196.3 1329.6,1205.2 1330.8,1214.2 1332.0,1223.3 1333.2,1232.3 1334.5,1241.4 1335.8,1250.4 1337.1,1259.5 1338.5,1268.5 1339.8,1277.5 1341.1,1286.6 1342.5,1295.6 1343.8,1304.7 1345.3,1313.7 1347.0,1322.7 1348.8,1331.9 1350.6,1341.3 1352.6,1350.6 1354.7,1359.8 1356.9,1368.6 1359.3,1377.0 1361.4,1383.7 1363.6,1390.2 1365.9,1396.5 1368.4,1402.5 1371.0,1408.1 1373.7,1413.2 1375.9,1416.8 1378.2,1420.1 1380.6,1423.2 1383.1,1426.1 1385.6,1428.8 1388.2,1431.2 1390.5,1433.1 1392.8,1434.8 1395.1,1436.3 1397.6,1437.7 1400.0,1439.1 1402.6,1440.3 1405.3,1441.5 1408.0,1442.6 1410.8,1443.5 1413.7,1444.4 1416.8,1445.2 1420.0,1446.0 1424.5,1446.9 1429.4,1447.7 1434.5,1448.5 1439.7,1449.1 1444.9,1449.6 1450.0,1450.0 1455.0,1450.3 1460.0,1450.4 1465.0,1450.5 1470.0,1450.5 1475.0,1450.5 1480.0,1450.5 1484.9,1450.5 1489.7,1450.5 1494.6,1450.5 1499.4,1450.5 1504.3,1450.5 1509.1,1450.5 1514.0,1450.5 1518.8,1450.5 1523.7,1450.5 1528.5,1450.5 1533.4,1450.5 1538.2,1450.5 1543.1,1450.5 1547.9,1450.5 1552.8,1450.5 1557.7,1450.5 1562.5,1450.5 1567.4,1450.5 1572.2,1450.5 1577.1,1450.5 1581.9,1450.5 1586.8,1450.5 1591.6,1450.5 1596.5,1450.5 1601.3,1450.5 1606.2,1450.5 1611.0,1450.5 1615.9,1450.5 1620.7,1450.5 1625.6,1450.5 1630.5,1450.5 1635.3,1450.5 1640.2,1450.5 1645.0,1450.5 1649.9,1450.5 1654.7,1450.5 1659.6,1450.5 1664.4,1450.5 1669.3,1450.5 1674.1,1450.5 1679.0,1450.5 1683.8,1450.5 1688.7,1450.5 1693.5,1450.5 1698.4,1450.5 1703.3,1450.5 1708.1,1450.5 1713.0,1450.5 1717.8,1450.5 1722.7,1450.5 1727.5,1450.5 1732.4,1450.5 1737.2,1450.5 1742.1,1450.5 1746.9,1450.5 1751.8,1450.5 1756.6,1450.5 1761.5,1450.5 1766.3,1450.5 1771.2,1450.5 1776.1,1450.5 1780.9,1450.5 1785.8,1450.5 1790.6,1450.5 1795.5,1450.5 1800.3,1450.5 1805.2,1450.5 1810.0,1450.5 1814.9,1450.5 1819.7,1450.5 1824.6,1450.5 1829.4,1450.5 1834.3,1450.5 1839.1,1450.5 1844.0,1450.5 1848.9,1450.5 1853.7,1450.5 1858.6,1450.5 1863.4,1450.5 1868.3,1450.5 1873.1,1450.5 1878.0,1450.5 1882.8,1450.5 1887.7,1450.5 1892.5,1450.5 1897.4,1450.5 1902.2,1450.5 1907.1,1450.5 1911.9,1450.5 1916.8,1450.5 1921.7,1450.5 1926.5,1450.5 1931.4,1450.5 1936.2,1450.5 1941.1,1450.5 1945.9,1450.5 1950.8,1450.5 1955.6,1450.5 1960.5,1450.5 1965.3,1450.5 1970.2,1450.5 1975.0,1450.5 1979.9,1450.5 1984.7,1450.5 1989.6,1450.5 1994.5,1450.5 1999.3,1450.5 2004.2,1450.5 2009.0,1450.5 2013.9,1450.5 2018.7,1450.5 2023.6,1450.5 2028.4,1450.5 2033.3,1450.5 2038.1,1450.5 2043.0,1450.5 2047.8,1450.5 2052.7,1450.5 2057.5,1450.5 2062.4,1450.5 2067.3,1450.5 2072.1,1450.5 2077.0,1450.5 2081.8,1450.5 2086.7,1450.5 2091.5,1450.5 2096.4,1450.5 2101.2,1450.5 2106.1,1450.5 2110.9,1450.5 2115.8,1450.5 2120.6,1450.5 2125.5,1450.5 2130.3,1450.5 2135.2,1450.5 2140.1,1450.5 2144.9,1450.5 2149.8,1450.5 2154.6,1450.5 2159.5,1450.5 2164.3,1450.5 2169.2,1450.5 2174.0,1450.5 2178.9,1450.5 2183.7,1450.5 2188.6,1450.5 2193.4,1450.5 2198.3,1450.5 2203.1,1450.5 2208.0,1450.5"/>
<polyline stroke="#0000ff" points="337.0,1394.0 338.5,1396.2 340.0,1398.6 341.6,1400.9 343.1,1403.2 344.7,1405.2 346.3,1407.1 347.7,1408.4 349.1,1409.7 350.5,1410.8 352.0,1411.8 353.5,1412.7 355.0,1413.6 356.5,1414.4 358.1,1415.0 359.7,1415.6 361.3,1416.1 363.1,1416.6 365.0,1417.0 368.0,1417.5 371.3,1417.8 374.8,1418.1 378.3,1418.2 381.8,1418.1 385.0,1418.0 387.5,1417.8 389.9,1417.4 392.3,1417.0 394.6,1416.4 397.0,1415.8 399.4,1415.2 402.2,1414.4 405.0,1413.5 407.9,1412.5 410.8,1411.4 413.8,1410.4 416.8,1409.3 420.4,1408.1 424.1,1406.8 428.0,1405.5 431.8,1404.2 435.3,1402.9 438.5,1401.7 440.5,1400.9 442.4,1400.0 444.2,1399.2 445.9,1398.4 447.5,1397.6 449.3,1396.8 451.1,1395.9 453.0,1394.9 454.8,1393.9 456.6,1392.9 458.4,1392.1 460.2,1391.4 461.7,1390.9 463.1,1390.5 464.5,1390.1 465.9,1389.9 467.4,1389.7 468.9,1389.7 470.9,1389.9 473.1,1390.3 475.4,1390.9 477.6,1391.7 479.8,1392.6 481.9,1393.5 483.8,1394.5 485.7,1395.7 487.5,1397.0 489.2,1398.3 490.9,1399.7 492.7,1401.1 494.5,1402.6 496.4,1404.3 498.2,1405.9 500.0,1407.6 501.8,1409.3 503.6,1410.9 505.4,1412.4 507.2,1414.0 508.9,1415.5 510.7,1417.0 512.5,1418.3 514.4,1419.6 516.2,1420.7 518.0,1421.7 519.8,1422.6 521.6,1423.5 523.5,1424.3 525.3,1425.0 527.0,1425.6 528.7,1426.1 530.4,1426.6 532.2,1427.0 534.0,1427.3 536.1,1427.7 539.5,1428.2 543.1,1428.6 547.0,1429.0 551.2,1429.2 555.5,1429.4 560.0,1429.5 566.3,1429.4 573.3,1429.1 580.5,1428.6 587.8,1428.1 594.8,1427.6 601.2,1427.2 605.8,1427.0 610.1,1426.9 614.3,1426.7 618.4,1426.6 622.5,1426.5 626.7,1426.3 630.9,1426.2 635.1,1426.0 639.3,1425.8 643.6,1425.7 647.8,1425.6 652.2,1425.5 657.0,1425.5 662.0,1425.6 667.0,1425.8 672.0,1426.0 677.0,1426.2 682.0,1426.3 687.1,1426.5 692.1,1426.6 697.2,1426.7 702.2,1426.9 707.1,1427.0 711.9,1427.2 716.1,1427.4 720.1,1427.6 724.1,1427.9 728.0,1428.1 732.0,1428.4 736.0,1428.6 739.9,1428.8 743.7,1429.0 747.6,1429.2 751.5,1429.4 755.6,1429.6 760.0,1430.0 766.2,1430.6 772.8,1431.4 779.7,1432.3 786.7,1433.2 793.6,1434.1 800.0,1435.0 805.3,1435.8 810.5,1436.6 815.6,1437.5 820.6,1438.3 825.4,1439.0 830.0,1439.5 833.6,1439.8 837.0,1440.0 840.3,1440.2 843.5,1440.3 846.8,1440.2 850.0,1440.0 853.2,1439.6 856.3,1439.1 859.4,1438.4 862.5,1437.6 865.6,1436.8 868.7,1436.0 871.8,1435.2 874.8,1434.3 877.9,1433.4 880.9,1432.5 884.0,1431.5 887.0,1430.5 890.1,1429.4 893.1,1428.3 896.1,1427.1 899.2,1425.9 902.2,1424.6 905.3,1423.3 908.6,1421.8 912.0,1420.3 915.4,1418.7 918.8,1417.1 922.2,1415.5 925.6,1413.8 929.0,1412.1 932.4,1410.3 935.8,1408.5 939.2,1406.7 942.6,1404.9 946.0,1403.0 949.4,1401.2 952.8,1399.4 956.3,1397.6 959.7,1395.7 963.0,1393.7 966.3,1391.4 969.9,1388.5 973.4,1385.4 976.9,1382.0 980.3,1378.6 983.6,1375.2 986.7,1372.0 989.1,1369.5 991.4,1367.1 993.5,1364.7 995.7,1362.3 997.9,1359.8 1000.2,1357.0 1003.4,1353.1 1006.9,1348.7 1010.5,1344.2 1014.0,1339.6 1017.4,1335.1 1020.6,1331.0 1023.0,1327.9 1025.3,1325.0 1027.6,1322.1 1029.8,1319.3 1031.9,1316.4 1034.1,1313.4 1036.5,1309.9 1038.8,1306.3 1041.2,1302.7 1043.4,1299.0 1045.6,1295.3 1047.7,1291.7 1049.4,1288.6 1051.0,1285.6 1052.4,1282.6 1053.9,1279.5 1055.5,1276.3 1057.2,1272.7 1060.0,1266.8 1063.0,1260.2 1066.2,1253.2 1069.5,1246.0 1073.0,1238.8 1076.5,1232.0 1080.4,1225.1 1084.5,1218.0 1088.8,1211.0 1093.0,1204.3 1097.0,1198.2 1100.6,1193.0 1102.5,1190.4 1104.3,1188.0 1106.0,1185.9 1107.6,1183.9 1109.3,1182.0 1110.9,1180.0 1112.4,1178.2 1113.9,1176.5 1115.3,1174.8 1116.7,1173.0 1118.2,1171.2 1119.8,1169.3 1122.1,1166.6 1124.5,1163.6 1127.0,1160.6 1129.5,1157.5 1132.0,1154.3 1134.3,1151.2 1136.5,1148.2 1138.6,1145.3 1140.7,1142.3 1142.7,1139.3 1144.6,1136.2 1146.5,1133.2 1148.3,1130.2 1150.0,1127.2 1151.6,1124.2 1153.2,1121.2 1154.8,1118.1 1156.3,1115.1 1157.7,1112.2 1159.0,1109.3 1160.3,1106.5 1161.6,1103.5 1162.9,1100.4 1164.2,1097.0 1166.1,1091.7 1168.1,1085.9 1170.2,1079.7 1172.2,1073.4 1174.2,1067.0 1176.0,1060.8 1177.7,1054.8 1179.3,1048.8 1180.8,1042.8 1182.3,1036.8 1183.7,1030.7 1185.2,1024.7 1186.5,1018.7 1187.9,1012.7 1189.2,1006.6 1190.4,1000.6 1191.7,994.5 1192.9,988.5 1194.1,982.5 1195.3,976.4 1196.5,970.4 1197.6,964.4 1198.8,958.3 1200.0,952.3 1201.2,946.0 1202.4,939.5 1203.7,933.0 1204.9,926.7 1206.0,921.1 1207.0,916.2 1207.4,913.9 1207.8,911.9 1208.2,910.1 1208.6,908.4 1208.9,906.6 1209.3,904.7 1209.8,902.5 1210.3,900.2 1210.8,897.9 1211.3,895.6 1211.8,893.3 1212.3,891.1 1212.7,889.2 1213.1,887.4 1213.5,885.7 1213.9,883.9 1214.3,882.1 1214.7,880.3 1215.1,878.4 1215.6,876.4 1216.1,874.5 1216.5,872.5 1217.0,870.5 1217.5,868.5 1218.1,866.3 1218.7,864.0 1219.2,861.7 1219.8,859.4 1220.4,857.1 1221.0,854.9 1221.5,852.9 1222.0,850.9 1222.4,849.0 1222.9,847.0 1223.4,845.1 1223.9,843.2 1224.4,841.3 1224.9,839.5 1225.5,837.7 1226.0,835.8 1226.5,834.1 1227.0,832.3 1227.5,830.7 1227.9,829.2 1228.3,827.7 1228.7,826.3 1229.2,824.8 1229.6,823.3 1230.1,821.8 1230.6,820.2 1231.1,818.7 1231.6,817.1 1232.2,815.6 1232.7,814.2 1233.2,812.9 1233.7,811.7 1234.2,810.5 1234.7,809.3 1235.3,808.1 1235.9,807.0 1236.6,805.9 1237.4,804.8 1238.2,803.7 1239.1,802.7 1239.8,801.8 1240.4,801.2 1240.6,801.0 1240.8,800.9 1241.0,800.7 1241.1,800.6 1241.3,800.5 1241.5,800.4 1241.7,800.3 1241.8,800.2 1242.0,800.1 1242.2,800.0 1242.4,799.9 1242.6,799.8 1242.7,799.7 1242.9,799.6 1243.1,799.5 1243.3,799.4 1243.5,799.3 1243.7,799.3 1243.8,799.2 1244.0,799.1 1244.2,799.1 1244.4,799.0 1244.6,798.9 1244.7,798.9 1244.9,798.8 1245.1,798.8 1245.3,798.8 1245.5,798.7 1245.6,798.7 1245.8,798.7 1246.0,798.7 1246.2,798.6 1246.4,798.6 1246.5,798.6 1246.7,798.6 1246.9,798.6 1247.1,798.6 1247.2,798.6 1247.4,798.6 1247.6,798.6 1247.8,798.7 1247.9,798.7 1248.1,798.7 1248.3,798.7 1248.5,798.8 1248.6,798.8 1248.8,798.8 1249.0,798.9 1249.1,798.9 1249.3,799.0 1249.5,799.1 1249.7,799.1 1249.8,799.2 1250.0,799.3 1250.2,799.3 1250.3,799.4 1250.5,799.5 1250.7,799.6 1250.9,799.7 1251.0,799.8 1251.2,799.9 1251.4,800.0 1251.6,800.1 1251.7,800.2 1251.9,800.3 1252.1,800.4 1252.2,800.5 1252.4,800.6 1252.6,800.7 1252.7,800.8 1252.9,801.0 1253.1,801.2 1253.7,801.9 1254.3,802.9 1255.1,804.1 1255.8,805.3 1256.5,806.6 1257.1,807.9 1257.7,809.2 1258.1,810.5 1258.6,811.9 1259.0,813.3 1259.5,814.7 1259.9,816.1 1260.4,817.6 1260.8,819.0 1261.3,820.5 1261.7,822.0 1262.2,823.6 1262.6,825.1 1263.0,826.7 1263.3,828.3 1263.7,830.0 1264.1,831.6 1264.4,833.3 1264.8,835.0 1265.1,836.8 1265.5,838.6 1265.9,840.4 1266.3,842.2 1266.7,844.1 1267.1,845.9 1267.5,847.8 1267.9,849.7 1268.2,851.7 1268.6,853.6 1269.0,855.6 1269.4,857.6 1269.9,859.8 1270.3,862.0 1270.8,864.3 1271.2,866.6 1271.7,868.9 1272.2,871.2 1272.6,873.7 1273.1,876.2 1273.6,878.8 1274.1,881.4 1274.6,884.0 1275.0,886.6 1275.5,889.2 1275.9,891.7 1276.4,894.2 1276.8,896.8 1277.3,899.7 1277.9,902.9 1279.0,909.5 1280.2,917.0 1281.5,925.3 1282.9,934.1 1284.2,943.2 1285.6,952.3 1287.1,963.6 1288.7,975.4 1290.3,987.6 1291.9,1000.1 1293.4,1012.5 1295.0,1024.7 1296.4,1036.8 1297.9,1049.0 1299.3,1061.2 1300.7,1073.3 1302.1,1085.2 1303.5,1097.0 1304.8,1107.8 1306.1,1118.5 1307.5,1129.1 1308.8,1139.5 1310.1,1149.8 1311.4,1160.0 1312.7,1169.3 1314.0,1178.4 1315.3,1187.4 1316.6,1196.3 1317.9,1205.2 1319.3,1214.2 1320.6,1223.3 1322.1,1232.3 1323.5,1241.4 1324.9,1250.4 1326.4,1259.5 1327.8,1268.5 1329.3,1277.5 1330.7,1286.6 1332.1,1295.6 1333.5,1304.7 1335.1,1313.7 1336.8,1322.7 1338.6,1331.9 1340.5,1341.3 1342.5,1350.6 1344.6,1359.8 1346.9,1368.7 1349.4,1377.0 1351.8,1383.7 1354.3,1390.3 1356.9,1396.6 1359.7,1402.5 1362.6,1408.1 1365.6,1413.2 1368.0,1416.8 1370.4,1420.1 1372.9,1423.2 1375.5,1426.1 1378.1,1428.7 1380.9,1431.2 1383.5,1433.2 1386.1,1435.1 1388.8,1436.8 1391.5,1438.4 1394.4,1439.8 1397.2,1441.2 1400.1,1442.5 1403.0,1443.7 1405.9,1444.8 1409.0,1445.8 1412.1,1446.7 1415.3,1447.5 1419.1,1448.2 1423.0,1448.8 1427.0,1449.2 1431.2,1449.5 1435.5,1449.7 1440.0,1450.0 1446.2,1450.3 1452.9,1450.4 1459.8,1450.5 1466.8,1450.5 1473.6,1450.5 1480.0,1450.5 1485.1,1450.5 1490.0,1450.5 1494.8,1450.5 1499.6,1450.5 1504.3,1450.5 1509.1,1450.5 1514.0,1450.5 1518.8,1450.5 1523.7,1450.5 1528.5,1450.5 1533.4,1450.5 1538.2,1450.5 1543.1,1450.5 1547.9,1450.5 1552.8,1450.5 1557.7,1450.5 1562.5,1450.5 1567.4,1450.5 1572.2,1450.5 1577.1,1450.5 1581.9,1450.5 1586.8,1450.5 1591.6,1450.5 1596.5,1450.5 1601.3,1450.5 1606.2,1450.5 1611.0,1450.5 1615.9,1450.5 1620.7,1450.5 1625.6,1450.5 1630.5,1450.5 1635.3,1450.5 1640.2,1450.5 1645.0,1450.5 1649.9,1450.5 1654.7,1450.5 1659.6,1450.5 1664.4,1450.5 1669.3,1450.5 1674.1,1450.5 1679.0,1450.5 1683.8,1450.5 1688.7,1450.5 1693.5,1450.5 1698.4,1450.5 1703.3,1450.5 1708.1,1450.5 1713.0,1450.5 1717.8,1450.5 1722.7,1450.5 1727.5,1450.5 1732.4,1450.5 1737.2,1450.5 1742.1,1450.5 1746.9,1450.5 1751.8,1450.5 1756.6,1450.5 1761.5,1450.5 1766.3,1450.5 1771.2,1450.5 1776.1,1450.5 1780.9,1450.5 1785.8,1450.5 1790.6,1450.5 1795.5,1450.5 1800.3,1450.5 1805.2,1450.5 1810.0,1450.5 1814.9,1450.5 1819.7,1450.5 1824.6,1450.5 1829.4,1450.5 1834.3,1450.5 1839.1,1450.5 1844.0,1450.5 1848.9,1450.5 1853.7,1450.5 1858.6,1450.5 1863.4,1450.5 1868.3,1450.5 1873.1,1450.5 1878.0,1450.5 1882.8,1450.5 1887.7,1450.5 1892.5,1450.5 1897.4,1450.5 1902.2,1450.5 1907.1,1450.5 1911.9,1450.5 1916.8,1450.5 1921.7,1450.5 1926.5,1450.5 1931.4,1450.5 1936.2,1450.5 1941.1,1450.5 1945.9,1450.5 1950.8,1450.5 1955.6,1450.5 1960.5,1450.5 1965.3,1450.5 1970.2,1450.5 1975.0,1450.5 1979.9,1450.5 1984.7,1450.5 1989.6,1450.5 1994.5,1450.5 1999.3,1450.5 2004.2,1450.5 2009.0,1450.5 2013.9,1450.5 2018.7,1450.5 2023.6,1450.5 2028.4,1450.5 2033.3,1450.5 2038.1,1450.5 2043.0,1450.5 2047.8,1450.5 2052.7,1450.5 2057.5,1450.5 2062.4,1450.5 2067.3,1450.5 2072.1,1450.5 2077.0,1450.5 2081.8,1450.5 2086.7,1450.5 2091.5,1450.5 2096.4,1450.5 2101.2,1450.5 2106.1,1450.5 2110.9,1450.5 2115.8,1450.5 2120.6,1450.5 2125.5,1450.5 2130.3,1450.5 2135.2,1450.5 2140.1,1450.5 2144.9,1450.5 2149.8,1450.5 2154.6,1450.5 2159.5,1450.5 2164.3,1450.5 2169.2,1450.5 2174.0,1450.5 2178.9,1450.5 2183.7,1450.5 2188.6,1450.5 2193.4,1450.5 2198.3,1450.5 2203.1,1450.5 2208.0,1450.5"/>
<polyline stroke="#00ffff" points="337.0,1404.0 338.0,1405.1 338.9,1406.1 339.9,1407.2 340.9,1408.3 341.9,1409.3 343.0,1410.4 344.3,1411.7 345.7,1413.0 347.2,1414.2 348.7,1415.5 350.3,1416.8 352.0,1418.0 354.3,1419.5 356.7,1421.0 359.3,1422.5 361.9,1423.9 364.5,1425.1 367.0,1426.0 368.9,1426.5 370.7,1426.9 372.5,1427.1 374.3,1427.2 376.2,1427.3 378.0,1427.2 380.0,1427.0 382.0,1426.8 384.0,1426.4 386.0,1425.9 388.0,1425.2 390.0,1424.5 392.1,1423.4 394.3,1422.0 396.4,1420.5 398.5,1419.0 400.6,1417.6 402.7,1416.5 404.7,1415.8 406.6,1415.2 408.6,1414.8 410.6,1414.4 412.6,1414.0 414.6,1413.6 416.7,1413.1 418.9,1412.6 421.1,1412.1 423.3,1411.5 425.5,1411.0 427.6,1410.4 429.5,1409.8 431.3,1409.2 433.1,1408.6 434.9,1407.9 436.7,1407.2 438.5,1406.6 440.3,1405.9 442.1,1405.3 443.9,1404.6 445.7,1404.0 447.5,1403.3 449.3,1402.8 451.1,1402.3 453.0,1401.9 454.9,1401.5 456.7,1401.2 458.5,1400.9 460.2,1400.6 461.5,1400.4 462.8,1400.2 463.9,1400.0 465.2,1399.9 466.4,1399.9 467.8,1400.0 469.9,1400.3 472.3,1400.9 474.8,1401.6 477.3,1402.4 479.7,1403.4 481.9,1404.4 483.8,1405.5 485.7,1406.7 487.4,1408.0 489.2,1409.3 490.9,1410.7 492.7,1412.0 494.5,1413.3 496.3,1414.7 498.1,1416.0 499.9,1417.3 501.7,1418.5 503.6,1419.6 505.4,1420.5 507.3,1421.3 509.2,1422.0 511.0,1422.6 512.8,1423.3 514.4,1423.9 515.4,1424.4 516.3,1424.8 517.1,1425.2 518.0,1425.6 518.9,1426.1 520.0,1426.6 522.1,1427.5 524.4,1428.6 527.0,1429.8 529.7,1430.9 532.4,1432.0 535.0,1433.0 537.5,1433.8 539.9,1434.6 542.3,1435.3 544.8,1435.9 547.4,1436.5 550.0,1437.0 553.1,1437.4 556.3,1437.7 559.5,1437.9 562.9,1438.1 566.4,1438.2 570.0,1438.3 574.7,1438.4 579.6,1438.5 584.7,1438.6 589.9,1438.6 595.0,1438.6 600.0,1438.6 604.7,1438.6 609.4,1438.6 614.1,1438.6 618.7,1438.6 623.3,1438.6 628.0,1438.6 632.7,1438.6 637.3,1438.6 642.0,1438.6 646.7,1438.6 651.3,1438.6 656.0,1438.6 660.7,1438.6 665.3,1438.6 670.0,1438.6 674.7,1438.6 679.3,1438.6 684.0,1438.6 688.7,1438.6 693.4,1438.6 698.2,1438.6 702.9,1438.6 707.5,1438.6 712.0,1438.6 715.9,1438.7 719.7,1438.7 723.5,1438.8 727.2,1438.9 730.9,1439.0 734.7,1439.1 738.4,1439.1 742.2,1439.2 746.0,1439.3 749.8,1439.4 753.6,1439.5 757.3,1439.5 761.1,1439.6 764.7,1439.7 768.4,1439.7 772.1,1439.8 775.9,1439.9 780.0,1440.0 785.5,1440.2 791.5,1440.3 797.6,1440.6 803.8,1440.7 809.7,1440.9 815.0,1441.0 818.6,1441.1 822.0,1441.1 825.2,1441.2 828.4,1441.1 831.6,1441.1 834.8,1440.9 838.2,1440.6 841.5,1440.3 844.9,1439.9 848.2,1439.4 851.7,1438.8 855.1,1438.2 858.9,1437.4 862.7,1436.5 866.6,1435.5 870.5,1434.4 874.4,1433.3 878.2,1432.1 882.1,1430.8 886.1,1429.4 890.1,1428.0 893.9,1426.6 897.6,1425.2 901.0,1423.9 903.3,1423.1 905.3,1422.4 907.3,1421.8 909.2,1421.1 911.2,1420.2 913.4,1419.2 916.7,1417.4 920.2,1415.2 923.8,1412.8 927.6,1410.3 931.3,1407.6 935.0,1405.0 939.1,1402.1 943.2,1399.0 947.3,1395.9 951.5,1392.7 955.5,1389.6 959.5,1386.6 963.0,1384.0 966.5,1381.4 969.9,1378.9 973.2,1376.4 976.6,1373.8 979.9,1371.0 983.4,1368.0 986.8,1364.8 990.2,1361.6 993.6,1358.3 996.9,1354.9 1000.2,1351.4 1003.7,1347.5 1007.3,1343.5 1010.8,1339.3 1014.2,1335.1 1017.5,1331.0 1020.6,1327.0 1023.1,1323.8 1025.4,1320.6 1027.6,1317.5 1029.7,1314.4 1031.9,1311.3 1034.1,1308.0 1036.6,1304.4 1039.0,1300.7 1041.5,1296.9 1043.9,1293.1 1046.5,1289.1 1049.0,1285.0 1052.1,1279.9 1055.3,1274.5 1058.5,1269.0 1061.8,1263.4 1065.0,1257.7 1068.2,1252.2 1071.4,1246.7 1074.5,1241.2 1077.6,1235.6 1080.7,1230.2 1083.8,1224.8 1087.0,1219.7 1090.0,1215.2 1093.0,1210.7 1096.1,1206.3 1099.1,1202.1 1102.1,1198.1 1105.0,1194.4 1107.2,1191.7 1109.4,1189.2 1111.6,1186.8 1113.7,1184.5 1115.7,1182.2 1117.8,1180.0 1119.4,1178.2 1121.1,1176.4 1122.6,1174.7 1124.2,1173.0 1125.9,1171.2 1127.6,1169.3 1130.0,1166.6 1132.6,1163.7 1135.2,1160.6 1137.9,1157.5 1140.4,1154.3 1142.8,1151.2 1144.8,1148.3 1146.8,1145.5 1148.6,1142.7 1150.4,1139.8 1152.2,1136.6 1154.1,1133.2 1156.8,1127.9 1159.6,1122.1 1162.4,1116.0 1165.2,1109.6 1167.9,1103.2 1170.4,1097.0 1172.7,1091.0 1174.9,1085.0 1177.0,1079.0 1179.0,1072.9 1181.0,1066.9 1183.0,1060.8 1184.9,1054.8 1186.7,1048.8 1188.5,1042.8 1190.2,1036.7 1192.0,1030.7 1193.8,1024.7 1195.7,1018.6 1197.5,1012.4 1199.4,1006.2 1201.3,1000.0 1203.1,994.1 1204.9,988.5 1206.3,984.0 1207.7,979.6 1209.1,975.4 1210.4,971.3 1211.7,967.5 1213.0,964.1 1213.8,962.0 1214.5,960.2 1215.3,958.4 1216.0,956.7 1216.8,955.1 1217.5,953.5 1218.2,952.1 1218.9,950.8 1219.5,949.5 1220.2,948.2 1220.9,946.9 1221.6,945.5 1222.5,943.6 1223.5,941.5 1224.5,939.3 1225.5,937.2 1226.5,935.4 1227.3,934.0 1227.7,933.5 1228.0,933.1 1228.3,932.7 1228.7,932.4 1229.0,932.1 1229.3,931.8 1229.7,931.5 1230.0,931.1 1230.3,930.8 1230.7,930.5 1231.0,930.2 1231.4,930.0 1231.7,929.7 1232.0,929.4 1232.4,929.2 1232.7,929.0 1233.1,928.7 1233.4,928.5 1233.7,928.3 1234.1,928.2 1234.4,928.0 1234.7,927.8 1235.1,927.7 1235.4,927.5 1235.8,927.4 1236.1,927.3 1236.4,927.2 1236.8,927.1 1237.1,927.0 1237.5,926.9 1237.8,926.8 1238.1,926.8 1238.5,926.8 1238.8,926.7 1239.2,926.7 1239.5,926.7 1239.8,926.7 1240.1,926.7 1240.4,926.7 1240.8,926.8 1241.1,926.8 1241.4,926.9 1241.7,926.9 1242.0,927.0 1242.3,927.1 1242.6,927.2 1243.0,927.3 1243.3,927.4 1243.6,927.5 1243.9,927.7 1244.2,927.8 1244.5,928.0 1244.8,928.1 1245.2,928.3 1245.5,928.5 1245.8,928.7 1246.1,928.9 1246.4,929.1 1246.7,929.3 1247.0,929.5 1247.4,929.8 1247.7,930.0 1248.0,930.3 1248.3,930.5 1248.6,930.8 1248.9,931.1 1249.2,931.4 1249.5,931.6 1249.9,931.9 1250.2,932.2 1250.5,932.6 1250.8,933.0 1251.4,934.0 1252.1,935.3 1252.8,936.8 1253.5,938.3 1254.2,939.9 1254.9,941.5 1255.6,943.2 1256.3,945.0 1257.0,946.8 1257.6,948.7 1258.3,950.5 1258.9,952.3 1259.4,953.9 1259.9,955.5 1260.4,957.0 1260.9,958.6 1261.4,960.4 1262.0,962.3 1262.9,965.9 1264.0,969.9 1265.1,974.3 1266.2,979.0 1267.3,983.7 1268.4,988.5 1269.7,994.2 1271.0,1000.1 1272.4,1006.2 1273.7,1012.4 1275.0,1018.6 1276.2,1024.7 1277.4,1030.7 1278.6,1036.7 1279.7,1042.7 1280.8,1048.8 1281.9,1054.8 1283.0,1060.8 1284.0,1066.8 1285.0,1072.9 1286.0,1078.9 1287.0,1084.9 1288.0,1091.0 1289.0,1097.0 1290.0,1103.1 1290.9,1109.3 1291.9,1115.4 1292.8,1121.5 1293.7,1127.5 1294.6,1133.2 1295.3,1137.8 1296.0,1142.1 1296.6,1146.3 1297.3,1150.5 1298.0,1155.0 1298.8,1160.0 1300.1,1167.9 1301.5,1176.7 1303.0,1185.9 1304.6,1195.4 1306.2,1204.9 1307.7,1214.2 1309.2,1223.2 1310.8,1232.3 1312.4,1241.3 1313.9,1250.4 1315.5,1259.4 1317.0,1268.5 1318.4,1277.5 1319.7,1286.6 1321.0,1295.6 1322.3,1304.7 1323.8,1313.7 1325.6,1322.7 1327.6,1331.9 1329.7,1341.3 1332.0,1350.7 1334.5,1359.8 1337.2,1368.7 1340.0,1377.0 1342.6,1383.7 1345.3,1390.3 1348.2,1396.6 1351.1,1402.6 1354.2,1408.1 1357.4,1413.2 1360.0,1416.8 1362.6,1420.1 1365.3,1423.2 1368.1,1426.1 1370.9,1428.8 1373.7,1431.2 1376.1,1433.1 1378.4,1434.7 1380.8,1436.2 1383.2,1437.6 1385.7,1439.0 1388.2,1440.3 1390.8,1441.7 1393.3,1443.0 1395.9,1444.3 1398.6,1445.5 1401.4,1446.6 1404.4,1447.5 1408.3,1448.3 1412.4,1448.9 1416.8,1449.3 1421.2,1449.6 1425.7,1449.8 1430.0,1450.0 1434.2,1450.2 1438.4,1450.2 1442.5,1450.3 1446.7,1450.2 1450.8,1450.2 1455.0,1450.2 1459.1,1450.3 1463.3,1450.3 1467.4,1450.4 1471.5,1450.4 1475.7,1450.5 1480.0,1450.5 1484.7,1450.5 1489.5,1450.5 1494.4,1450.5 1499.3,1450.5 1504.2,1450.5 1509.1,1450.5 1514.0,1450.5 1518.8,1450.5 1523.7,1450.5 1528.5,1450.5 1533.4,1450.5 1538.2,1450.5 1543.1,1450.5 1547.9,1450.5 1552.8,1450.5 1557.7,1450.5 1562.5,1450.5 1567.4,1450.5 1572.2,1450.5 1577.1,1450.5 1581.9,1450.5 1586.8,1450.5 1591.6,1450.5 1596.5,1450.5 1601.3,1450.5 1606.2,1450.5 1611.0,1450.5 1615.9,1450.5 1620.7,1450.5 1625.6,1450.5 1630.5,1450.5 1635.3,1450.5 1640.2,1450.5 1645.0,1450.5 1649.9,1450.5 1654.7,1450.5 1659.6,1450.5 1664.4,1450.5 1669.3,1450.5 1674.1,1450.5 1679.0,1450.5 1683.8,1450.5 1688.7,1450.5 1693.5,1450.5 1698.4,1450.5 1703.3,1450.5 1708.1,1450.5 1713.0,1450.5 1717.8,1450.5 1722.7,1450.5 1727.5,1450.5 1732.4,1450.5 1737.2,1450.5 1742.1,1450.5 1746.9,1450.5 1751.8,1450.5 1756.6,1450.5 1761.5,1450.5 1766.3,1450.5 1771.2,1450.5 1776.1,1450.5 1780.9,1450.5 1785.8,1450.5 1790.6,1450.5 1795.5,1450.5 1800.3,1450.5 1805.2,1450.5 1810.0,1450.5 1814.9,1450.5 1819.7,1450.5 1824.6,1450.5 1829.4,1450.5 1834.3,1450.5 1839.1,1450.5 1844.0,1450.5 1848.9,1450.5 1853.7,1450.5 1858.6,1450.5 1863.4,1450.5 1868.3,1450.5 1873.1,1450.5 1878.0,1450.5 1882.8,1450.5 1887.7,1450.5 1892.5,1450.5 1897.4,1450.5 1902.2,1450.5 1907.1,1450.5 1911.9,1450.5 1916.8,1450.5 1921.7,1450.5 1926.5,1450.5 1931.4,1450.5 1936.2,1450.5 1941.1,1450.5 1945.9,1450.5 1950.8,1450.5 1955.6,1450.5 1960.5,1450.5 1965.3,1450.5 1970.2,1450.5 1975.0,1450.5 1979.9,1450.5 1984.7,1450.5 1989.6,1450.5 1994.5,1450.5 1999.3,1450.5 2004.2,1450.5 2009.0,1450.5 2013.9,1450.5 2018.7,1450.5 2023.6,1450.5 2028.4,1450.5 2033.3,1450.5 2038.1,1450.5 2043.0,1450.5 2047.8,1450.5 2052.7,1450.5 2057.5,1450.5 2062.4,1450.5 2067.3,1450.5 2072.1,1450.5 2077.0,1450.5 2081.8,1450.5 2086.7,1450.5 2091.5,1450.5 2096.4,1450.5 2101.2,1450.5 2106.1,1450.5 2110.9,1450.5 2115.8,1450.5 2120.6,1450.5 2125.5,1450.5 2130.3,1450.5 2135.2,1450.5 2140.1,1450.5 2144.9,1450.5 2149.8,1450.5 2154.6,1450.5 2159.5,1450.5 2164.3,1450.5 2169.2,1450.5 2174.0,1450.5 2178.9,1450.5 2183.7,1450.5 2188.6,1450.5 2193.4,1450.5 2198.3,1450.5 2203.1,1450.5 2208.0,1450.5"/>
<polyline stroke="#ff00ff" points="337.0,1410.0 338.6,1411.5 340.2,1413.0 341.8,1414.5 343.3,1416.0 344.9,1417.3 346.3,1418.5 347.2,1419.2 348.1,1419.8 348.9,1420.4 349.8,1420.9 350.7,1421.4 351.7,1421.8 353.2,1422.3 354.8,1422.6 356.6,1422.9 358.5,1423.1 360.4,1423.2 362.5,1423.4 365.8,1423.6 369.5,1423.7 373.4,1423.8 377.3,1423.8 380.9,1423.6 384.2,1423.4 386.2,1423.2 388.1,1422.9 389.9,1422.5 391.6,1422.1 393.3,1421.7 395.0,1421.2 396.8,1420.6 398.6,1419.8 400.4,1419.0 402.3,1418.2 404.1,1417.5 405.9,1416.9 407.7,1416.5 409.4,1416.2 411.1,1415.9 412.9,1415.7 414.8,1415.5 416.8,1415.2 420.1,1414.8 423.8,1414.3 427.7,1413.9 431.6,1413.4 435.2,1413.0 438.5,1412.5 440.5,1412.1 442.5,1411.8 444.3,1411.4 446.0,1411.0 447.7,1410.7 449.3,1410.4 450.6,1410.2 451.8,1409.9 453.0,1409.7 454.2,1409.5 455.5,1409.3 456.9,1409.3 459.0,1409.4 461.4,1409.8 463.8,1410.2 466.3,1410.8 468.7,1411.4 471.0,1412.0 472.9,1412.6 474.8,1413.3 476.6,1414.0 478.3,1414.8 480.1,1415.6 481.9,1416.3 483.7,1417.0 485.5,1417.8 487.3,1418.6 489.1,1419.3 490.9,1420.0 492.7,1420.7 494.5,1421.3 496.3,1421.9 498.1,1422.4 500.0,1422.9 501.8,1423.4 503.6,1423.9 505.4,1424.3 507.1,1424.7 508.9,1425.1 510.7,1425.5 512.5,1426.0 514.4,1426.6 516.9,1427.8 519.3,1429.3 521.8,1431.0 524.5,1432.7 527.5,1434.2 530.7,1435.3 536.3,1436.2 542.7,1436.5 549.7,1436.4 556.8,1436.1 563.7,1435.7 570.0,1435.6 574.7,1435.6 579.3,1435.6 583.7,1435.7 588.0,1435.7 592.3,1435.7 596.7,1435.7 601.1,1435.7 605.6,1435.7 610.0,1435.8 614.4,1435.8 618.9,1435.8 623.3,1435.8 627.8,1435.8 632.3,1435.8 636.9,1435.8 641.4,1435.8 645.8,1435.9 650.0,1435.9 653.6,1436.0 657.1,1436.0 660.5,1436.1 663.9,1436.2 667.3,1436.3 670.7,1436.4 674.1,1436.5 677.6,1436.6 681.0,1436.7 684.4,1436.8 687.9,1436.9 691.3,1437.0 694.8,1437.1 698.1,1437.2 701.5,1437.3 704.9,1437.4 708.4,1437.5 712.0,1437.5 716.2,1437.5 720.4,1437.4 724.8,1437.3 729.2,1437.2 733.6,1437.1 738.0,1437.0 742.3,1437.0 746.7,1436.9 751.0,1436.8 755.3,1436.7 759.7,1436.6 764.0,1436.6 768.3,1436.5 772.5,1436.5 776.6,1436.5 780.9,1436.4 785.3,1436.3 790.0,1436.1 796.4,1435.8 803.2,1435.3 810.3,1434.8 817.4,1434.2 824.3,1433.5 830.7,1432.8 835.5,1432.1 840.2,1431.4 844.6,1430.7 849.0,1429.9 853.4,1429.0 857.8,1428.0 862.4,1426.9 867.0,1425.6 871.6,1424.3 876.1,1423.0 880.6,1421.7 884.9,1420.6 888.4,1419.9 891.8,1419.4 895.0,1418.9 898.3,1418.4 901.7,1417.6 905.3,1416.5 910.6,1414.4 916.2,1411.6 922.1,1408.5 928.0,1405.2 933.7,1401.9 939.2,1398.8 943.9,1396.2 948.5,1393.6 953.1,1391.0 957.5,1388.4 961.9,1385.6 966.3,1382.6 970.9,1379.2 975.5,1375.6 980.0,1371.9 984.5,1368.1 988.9,1364.1 993.4,1360.2 998.0,1356.0 1002.7,1351.7 1007.3,1347.3 1011.9,1342.8 1016.3,1338.5 1020.6,1334.4 1024.2,1331.0 1027.6,1327.7 1031.0,1324.5 1034.3,1321.3 1037.6,1318.1 1040.9,1314.8 1044.3,1311.3 1047.7,1307.8 1051.0,1304.2 1054.4,1300.7 1057.8,1297.1 1061.3,1293.5 1064.9,1289.8 1068.5,1286.2 1072.2,1282.6 1075.9,1278.9 1079.9,1275.0 1084.1,1271.0 1090.0,1265.5 1096.5,1259.6 1103.3,1253.5 1110.2,1247.3 1117.1,1241.1 1123.7,1235.0 1129.9,1229.0 1136.3,1222.9 1142.6,1216.8 1148.6,1210.9 1154.3,1205.1 1159.5,1199.8 1162.9,1196.2 1166.1,1192.6 1169.0,1189.3 1171.8,1186.0 1174.6,1182.9 1177.4,1180.0 1179.7,1177.7 1182.0,1175.6 1184.2,1173.6 1186.4,1171.7 1188.7,1169.6 1191.0,1167.5 1194.1,1164.7 1197.4,1161.6 1200.8,1158.5 1204.1,1155.5 1206.9,1153.0 1209.1,1151.2 1209.7,1150.7 1210.2,1150.4 1210.7,1150.1 1211.1,1149.8 1211.5,1149.6 1212.0,1149.3 1212.5,1149.0 1212.9,1148.7 1213.4,1148.5 1213.9,1148.2 1214.4,1148.0 1214.9,1147.7 1215.3,1147.5 1215.8,1147.3 1216.3,1147.1 1216.8,1146.9 1217.3,1146.7 1217.8,1146.5 1218.2,1146.3 1218.7,1146.2 1219.2,1146.0 1219.7,1145.9 1220.1,1145.7 1220.6,1145.6 1221.1,1145.5 1221.6,1145.4 1222.1,1145.3 1222.6,1145.2 1223.0,1145.1 1223.5,1145.1 1224.0,1145.0 1224.5,1145.0 1225.0,1144.9 1225.5,1144.9 1225.9,1144.9 1226.4,1144.9 1226.8,1144.9 1227.2,1144.9 1227.6,1144.9 1228.0,1145.0 1228.4,1145.0 1228.8,1145.1 1229.2,1145.1 1229.6,1145.2 1230.0,1145.3 1230.4,1145.4 1230.8,1145.5 1231.2,1145.6 1231.6,1145.7 1232.0,1145.9 1232.4,1146.0 1232.8,1146.2 1233.2,1146.3 1233.6,1146.5 1234.0,1146.7 1234.4,1146.9 1234.8,1147.1 1235.2,1147.3 1235.6,1147.5 1236.0,1147.7 1236.4,1148.0 1236.8,1148.2 1237.2,1148.5 1237.6,1148.7 1238.0,1149.0 1238.4,1149.3 1238.8,1149.6 1239.2,1149.8 1239.5,1150.1 1239.9,1150.4 1240.3,1150.7 1240.8,1151.2 1242.2,1152.7 1244.0,1154.8 1246.0,1157.2 1248.1,1159.8 1250.1,1162.4 1251.8,1165.0 1253.4,1167.6 1255.0,1170.3 1256.4,1173.0 1257.8,1175.8 1259.1,1178.4 1260.3,1181.0 1261.2,1182.9 1262.0,1184.6 1262.8,1186.3 1263.5,1188.1 1264.3,1190.1 1265.2,1192.5 1267.6,1199.2 1270.4,1207.5 1273.5,1217.0 1276.7,1227.1 1280.0,1237.2 1283.1,1246.8 1286.4,1256.4 1289.8,1266.1 1293.3,1275.8 1296.7,1285.5 1300.0,1295.2 1303.2,1304.7 1306.0,1313.6 1308.6,1322.6 1311.1,1331.5 1313.6,1340.3 1316.3,1348.8 1319.2,1357.1 1322.2,1364.5 1325.3,1371.8 1328.5,1378.9 1331.9,1385.8 1335.3,1392.4 1338.8,1398.7 1341.7,1403.8 1344.7,1408.7 1347.8,1413.4 1350.9,1417.8 1354.1,1422.0 1357.4,1425.8 1360.3,1428.7 1363.2,1431.4 1366.2,1434.0 1369.3,1436.3 1372.4,1438.4 1375.5,1440.3 1378.4,1441.9 1381.4,1443.3 1384.4,1444.5 1387.5,1445.6 1390.5,1446.6 1393.6,1447.5 1396.6,1448.2 1399.5,1448.8 1402.5,1449.3 1405.5,1449.6 1408.6,1449.9 1411.7,1450.2 1415.3,1450.4 1419.1,1450.4 1422.9,1450.4 1426.8,1450.3 1430.6,1450.2 1434.5,1450.2 1438.3,1450.2 1442.1,1450.2 1445.8,1450.2 1449.6,1450.2 1453.4,1450.2 1457.2,1450.2 1461.0,1450.2 1464.7,1450.2 1468.4,1450.2 1472.2,1450.2 1476.0,1450.2 1480.0,1450.2 1484.6,1450.2 1489.4,1450.2 1494.3,1450.2 1499.3,1450.2 1504.2,1450.2 1509.1,1450.2 1514.0,1450.2 1518.8,1450.2 1523.7,1450.2 1528.5,1450.2 1533.4,1450.2 1538.2,1450.2 1543.1,1450.2 1547.9,1450.2 1552.8,1450.2 1557.7,1450.2 1562.5,1450.2 1567.4,1450.2 1572.2,1450.2 1577.1,1450.2 1581.9,1450.2 1586.8,1450.2 1591.6,1450.2 1596.5,1450.2 1601.3,1450.3 1606.2,1450.3 1611.0,1450.3 1615.9,1450.3 1620.7,1450.3 1625.6,1450.3 1630.5,1450.3 1635.3,1450.3 1640.2,1450.3 1645.0,1450.3 1649.9,1450.3 1654.7,1450.3 1659.6,1450.3 1664.4,1450.3 1669.3,1450.3 1674.1,1450.3 1679.0,1450.3 1683.8,1450.3 1688.7,1450.3 1693.5,1450.3 1698.4,1450.3 1703.3,1450.3 1708.1,1450.3 1713.0,1450.3 1717.8,1450.3 1722.7,1450.3 1727.5,1450.3 1732.4,1450.3 1737.2,1450.3 1742.1,1450.3 1746.9,1450.3 1751.8,1450.3 1756.6,1450.3 1761.5,1450.3 1766.3,1450.3 1771.2,1450.3 1776.1,1450.3 1780.9,1450.3 1785.8,1450.3 1790.6,1450.3 1795.5,1450.3 1800.3,1450.3 1805.2,1450.3 1810.0,1450.3 1814.9,1450.3 1819.7,1450.3 1824.6,1450.3 1829.4,1450.3 1834.3,1450.3 1839.1,1450.3 1844.0,1450.3 1848.9,1450.4 1853.7,1450.4 1858.6,1450.4 1863.4,1450.4 1868.3,1450.4 1873.1,1450.4 1878.0,1450.4 1882.8,1450.4 1887.7,1450.4 1892.5,1450.4 1897.4,1450.4 1902.2,1450.4 1907.1,1450.4 1911.9,1450.4 1916.8,1450.4 1921.7,1450.4 1926.5,1450.4 1931.4,1450.4 1936.2,1450.4 1941.1,1450.4 1945.9,1450.4 1950.8,1450.4 1955.6,1450.4 1960.5,1450.4 1965.3,1450.4 1970.2,1450.4 1975.0,1450.4 1979.9,1450.4 1984.7,1450.4 1989.6,1450.4 1994.5,1450.4 1999.3,1450.4 2004.2,1450.4 2009.0,1450.4 2013.9,1450.4 2018.7,1450.4 2023.6,1450.4 2028.4,1450.4 2033.3,1450.4 2038.1,1450.4 2043.0,1450.4 2047.8,1450.4 2052.7,1450.4 2057.5,1450.4 2062.4,1450.4 2067.3,1450.4 2072.1,1450.4 2077.0,1450.4 2081.8,1450.4 2086.7,1450.4 2091.5,1450.5 2096.4,1450.5 2101.2,1450.5 2106.1,1450.5 2110.9,1450.5 2115.8,1450.5 2120.6,1450.5 2125.5,1450.5 2130.3,1450.5 2135.2,1450.5 2140.1,1450.5 2144.9,1450.5 2149.8,1450.5 2154.6,1450.5 2159.5,1450.5 2164.3,1450.5 2169.2,1450.5 2174.0,1450.5 2178.9,1450.5 2183.7,1450.5 2188.6,1450.5 2193.4,1450.5 2198.3,1450.5 2203.1,1450.5 2208.0,1450.5"/>
<polyline stroke="#9400ff" points="337.0,1424.0 338.5,1424.9 340.1,1425.9 341.6,1426.8 343.1,1427.7 344.7,1428.6 346.3,1429.3 348.0,1429.9 349.6,1430.5 351.3,1431.0 353.1,1431.4 355.0,1431.8 357.1,1432.1 361.0,1432.5 365.7,1432.7 370.7,1432.8 375.6,1432.8 380.3,1432.5 384.2,1432.1 386.3,1431.7 388.1,1431.2 389.8,1430.6 391.4,1430.0 393.1,1429.3 395.0,1428.8 397.5,1428.2 400.2,1427.6 403.0,1427.0 405.8,1426.4 408.6,1425.9 411.4,1425.5 414.1,1425.2 416.9,1424.9 419.7,1424.7 422.4,1424.4 425.1,1424.2 427.6,1423.9 429.5,1423.6 431.2,1423.2 432.9,1422.8 434.6,1422.4 436.4,1422.1 438.5,1421.8 442.5,1421.5 447.1,1421.3 452.1,1421.2 457.0,1421.2 461.7,1421.4 465.6,1421.8 467.7,1422.1 469.6,1422.6 471.4,1423.0 473.1,1423.6 474.8,1424.2 476.5,1425.0 478.3,1426.0 480.1,1427.2 481.9,1428.5 483.7,1429.8 485.5,1431.0 487.3,1432.1 489.1,1433.0 490.8,1433.7 492.6,1434.5 494.4,1435.1 496.2,1435.8 498.2,1436.4 500.7,1437.1 503.3,1437.8 506.1,1438.5 508.9,1439.1 511.7,1439.6 514.4,1440.2 517.0,1440.7 519.6,1441.3 522.1,1441.8 524.7,1442.2 527.6,1442.6 530.7,1442.9 536.3,1443.2 542.8,1443.3 549.8,1443.2 556.8,1443.1 563.7,1443.0 570.0,1442.9 574.7,1442.9 579.3,1442.9 583.7,1442.8 588.0,1442.8 592.3,1442.8 596.7,1442.7 601.1,1442.7 605.6,1442.7 610.0,1442.7 614.4,1442.6 618.9,1442.6 623.3,1442.6 627.8,1442.5 632.2,1442.5 636.6,1442.5 641.1,1442.5 645.5,1442.4 650.0,1442.4 654.6,1442.4 659.3,1442.3 664.0,1442.3 668.6,1442.3 673.3,1442.3 678.0,1442.2 682.7,1442.2 687.3,1442.2 692.0,1442.2 696.7,1442.1 701.3,1442.1 706.0,1442.1 710.7,1442.1 715.3,1442.0 720.0,1442.0 724.7,1442.0 729.3,1441.9 734.0,1441.9 738.7,1441.9 743.3,1441.9 748.0,1441.8 752.7,1441.8 757.3,1441.8 762.0,1441.8 766.7,1441.8 771.4,1441.8 776.0,1441.8 780.7,1441.8 785.4,1441.7 790.0,1441.6 794.5,1441.4 799.1,1441.1 803.6,1440.8 808.1,1440.5 812.6,1440.0 817.1,1439.5 821.6,1438.9 826.2,1438.2 830.7,1437.4 835.3,1436.6 839.8,1435.7 844.3,1434.8 848.8,1433.9 853.4,1432.9 857.9,1432.0 862.4,1430.9 866.9,1429.8 871.4,1428.7 875.9,1427.5 880.5,1426.2 885.0,1424.8 889.5,1423.4 894.0,1422.0 898.5,1420.6 903.0,1419.2 907.6,1417.9 912.1,1416.5 916.6,1415.1 921.1,1413.5 925.6,1411.7 930.2,1409.6 934.8,1407.3 939.3,1404.8 943.8,1402.2 948.3,1399.5 952.8,1396.8 957.4,1393.9 961.9,1390.9 966.5,1387.8 971.0,1384.5 975.5,1381.2 979.9,1377.8 984.5,1374.1 989.0,1370.2 993.5,1366.2 998.0,1362.2 1002.5,1358.1 1007.0,1354.1 1011.6,1350.0 1016.2,1345.9 1020.8,1341.7 1025.3,1337.6 1029.8,1333.6 1034.1,1329.7 1037.7,1326.5 1041.1,1323.4 1044.4,1320.5 1047.7,1317.5 1051.2,1314.5 1055.0,1311.5 1059.7,1307.8 1064.7,1304.0 1069.9,1300.2 1075.2,1296.4 1080.7,1292.7 1086.2,1289.3 1092.0,1285.9 1097.9,1282.7 1103.9,1279.6 1110.0,1276.7 1116.2,1273.9 1122.3,1271.2 1128.3,1268.7 1134.3,1266.4 1140.4,1264.2 1146.5,1262.1 1152.5,1260.2 1158.5,1258.6 1164.1,1257.2 1169.6,1256.0 1175.2,1254.9 1180.7,1254.0 1186.0,1253.4 1191.0,1253.1 1194.9,1253.1 1198.7,1253.2 1202.3,1253.6 1205.9,1254.1 1209.3,1254.8 1212.7,1255.8 1215.9,1257.0 1219.0,1258.4 1222.1,1259.9 1225.0,1261.7 1227.9,1263.7 1230.8,1265.8 1234.0,1268.4 1237.1,1271.3 1240.1,1274.4 1243.1,1277.7 1246.0,1281.2 1248.9,1284.8 1252.1,1289.1 1255.2,1293.7 1258.2,1298.6 1261.1,1303.5 1264.1,1308.6 1267.0,1313.7 1270.1,1319.2 1273.1,1324.9 1276.1,1330.7 1279.1,1336.5 1282.1,1342.3 1285.1,1348.1 1288.1,1353.9 1291.1,1359.7 1294.1,1365.5 1297.1,1371.3 1300.1,1376.9 1303.2,1382.4 1306.1,1387.4 1309.0,1392.3 1312.0,1397.1 1315.0,1401.8 1318.0,1406.3 1321.2,1410.5 1324.1,1414.0 1327.0,1417.4 1330.0,1420.6 1333.1,1423.7 1336.2,1426.6 1339.3,1429.4 1342.2,1431.8 1345.2,1434.1 1348.2,1436.3 1351.2,1438.3 1354.3,1440.3 1357.4,1442.1 1360.4,1443.7 1363.3,1445.3 1366.3,1446.7 1369.4,1448.0 1372.4,1449.2 1375.5,1450.2 1378.4,1451.0 1381.4,1451.6 1384.3,1452.0 1387.3,1452.4 1390.4,1452.7 1393.6,1453.0 1397.7,1453.3 1402.0,1453.4 1406.4,1453.5 1410.9,1453.6 1415.5,1453.6 1420.0,1453.6 1424.8,1453.6 1429.6,1453.6 1434.5,1453.6 1439.4,1453.6 1444.3,1453.6 1449.2,1453.6 1454.0,1453.6 1458.9,1453.6 1463.8,1453.6 1468.6,1453.6 1473.5,1453.6 1478.4,1453.6 1483.2,1453.6 1488.1,1453.6 1493.0,1453.6 1497.8,1453.6 1502.7,1453.6 1507.6,1453.6 1512.4,1453.6 1517.3,1453.6 1522.1,1453.6 1527.0,1453.6 1531.9,1453.6 1536.7,1453.6 1541.6,1453.6 1546.5,1453.6 1551.3,1453.6 1556.2,1453.6 1561.1,1453.6 1565.9,1453.6 1570.8,1453.6 1575.7,1453.6 1580.5,1453.6 1585.4,1453.6 1590.2,1453.6 1595.1,1453.6 1600.0,1453.6 1604.8,1453.6 1609.7,1453.6 1614.6,1453.6 1619.4,1453.6 1624.3,1453.6 1629.2,1453.6 1634.0,1453.6 1638.9,1453.6 1643.8,1453.6 1648.6,1453.6 1653.5,1453.6 1658.3,1453.6 1663.2,1453.6 1668.1,1453.6 1672.9,1453.6 1677.8,1453.6 1682.7,1453.6 1687.5,1453.6 1692.4,1453.6 1697.3,1453.6 1702.1,1453.6 1707.0,1453.6 1711.9,1453.6 1716.7,1453.6 1721.6,1453.6 1726.4,1453.6 1731.3,1453.6 1736.2,1453.6 1741.0,1453.6 1745.9,1453.6 1750.8,1453.6 1755.6,1453.6 1760.5,1453.6 1765.4,1453.6 1770.2,1453.6 1775.1,1453.6 1780.0,1453.6 1784.8,1453.6 1789.7,1453.6 1794.5,1453.6 1799.4,1453.6 1804.3,1453.6 1809.1,1453.6 1814.0,1453.6 1818.9,1453.6 1823.7,1453.6 1828.6,1453.6 1833.5,1453.6 1838.3,1453.6 1843.2,1453.6 1848.0,1453.6 1852.9,1453.6 1857.8,1453.6 1862.6,1453.6 1867.5,1453.6 1872.4,1453.6 1877.2,1453.6 1882.1,1453.6 1887.0,1453.6 1891.8,1453.6 1896.7,1453.6 1901.6,1453.6 1906.4,1453.6 1911.3,1453.6 1916.1,1453.6 1921.0,1453.6 1925.9,1453.6 1930.7,1453.6 1935.6,1453.6 1940.5,1453.6 1945.3,1453.6 1950.2,1453.6 1955.1,1453.6 1959.9,1453.6 1964.8,1453.6 1969.7,1453.6 1974.5,1453.6 1979.4,1453.6 1984.2,1453.6 1989.1,1453.6 1994.0,1453.6 1998.8,1453.6 2003.7,1453.6 2008.6,1453.6 2013.4,1453.6 2018.3,1453.6 2023.2,1453.6 2028.0,1453.6 2032.9,1453.6 2037.8,1453.6 2042.6,1453.6 2047.5,1453.6 2052.3,1453.6 2057.2,1453.6 2062.1,1453.6 2066.9,1453.6 2071.8,1453.6 2076.7,1453.6 2081.5,1453.6 2086.4,1453.6 2091.3,1453.6 2096.1,1453.6 2101.0,1453.6 2105.9,1453.6 2110.7,1453.6 2115.6,1453.6 2120.4,1453.6 2125.3,1453.6 2130.2,1453.6 2135.0,1453.6 2139.9,1453.6 2144.8,1453.6 2149.6,1453.6 2154.5,1453.6 2159.4,1453.6 2164.2,1453.6 2169.1,1453.6 2174.0,1453.6 2178.8,1453.6 2183.7,1453.6 2188.5,1453.6 2193.4,1453.6 2198.3,1453.6 2203.1,1453.6 2208.0,1453.6"/>
<polyline stroke="#404040" points="337.0,1414.2 339.4,1414.7 341.6,1415.2 343.9,1415.6 346.2,1416.1 348.8,1416.5 351.7,1416.9 357.8,1417.3 365.0,1417.5 372.8,1417.5 380.8,1417.6 388.4,1417.7 395.0,1418.0 399.1,1418.4 402.8,1418.8 406.4,1419.2 409.8,1419.7 413.3,1420.2 416.8,1420.7 420.4,1421.2 423.9,1421.8 427.4,1422.3 430.9,1422.9 434.6,1423.4 438.5,1423.9 443.6,1424.4 449.1,1424.7 454.7,1425.0 460.4,1425.3 465.9,1425.7 471.0,1426.1 474.8,1426.5 478.4,1427.0 481.8,1427.5 485.3,1428.0 488.9,1428.4 492.7,1428.8 497.7,1429.2 502.9,1429.5 508.3,1429.8 513.8,1430.0 519.5,1430.2 525.3,1430.4 532.5,1430.6 540.1,1430.7 547.9,1430.8 555.7,1430.9 563.1,1430.9 570.0,1431.0 574.8,1431.0 579.4,1431.1 583.8,1431.1 588.0,1431.1 592.3,1431.1 596.7,1431.2 601.1,1431.2 605.6,1431.2 610.0,1431.3 614.4,1431.3 618.9,1431.3 623.3,1431.3 627.8,1431.4 632.2,1431.4 636.6,1431.4 641.1,1431.5 645.5,1431.5 650.0,1431.5 654.6,1431.5 659.1,1431.5 663.7,1431.5 668.3,1431.5 672.9,1431.5 677.5,1431.5 682.1,1431.5 686.7,1431.5 691.2,1431.5 695.8,1431.5 700.4,1431.5 705.0,1431.5 709.6,1431.5 714.2,1431.5 718.8,1431.5 723.3,1431.5 727.9,1431.5 732.5,1431.5 737.2,1431.6 742.0,1431.7 746.8,1431.8 751.5,1431.8 755.9,1431.8 760.0,1431.5 762.8,1431.1 765.3,1430.6 767.8,1430.0 770.2,1429.4 772.5,1428.9 775.0,1428.5 777.4,1428.3 779.8,1428.2 782.2,1428.1 784.7,1428.1 787.2,1428.1 790.0,1428.0 794.0,1427.9 798.4,1427.9 803.0,1427.9 807.7,1427.8 812.4,1427.6 817.0,1427.3 821.6,1426.8 826.1,1426.3 830.7,1425.6 835.2,1424.9 839.8,1424.1 844.3,1423.3 848.8,1422.4 853.3,1421.5 857.9,1420.5 862.4,1419.5 866.9,1418.6 871.4,1417.8 875.9,1417.1 880.4,1416.6 885.0,1416.1 889.5,1415.7 894.0,1415.1 898.5,1414.4 903.1,1413.5 907.7,1412.5 912.3,1411.5 916.9,1410.4 921.3,1409.3 925.6,1408.3 929.3,1407.5 932.9,1406.7 936.5,1405.9 939.9,1405.1 943.1,1404.4 946.0,1403.6 947.8,1403.1 949.5,1402.6 951.0,1402.1 952.5,1401.6 953.8,1401.1 955.0,1400.5 955.7,1400.0 956.3,1399.3 956.9,1398.7 957.4,1398.1 957.9,1397.7 958.5,1397.5 959.1,1397.7 959.7,1398.1 960.2,1398.7 960.8,1399.4 961.4,1400.0 962.0,1400.5 962.6,1400.9 963.2,1401.2 963.7,1401.6 964.3,1401.8 964.9,1402.0 965.5,1402.0 966.1,1401.8 966.6,1401.5 967.1,1401.1 967.7,1400.5 968.3,1400.0 969.0,1399.5 970.4,1398.6 972.0,1397.6 973.8,1396.6 975.7,1395.5 977.8,1394.4 979.9,1393.4 982.9,1392.1 986.1,1390.7 989.6,1389.4 993.1,1388.2 996.7,1387.0 1000.2,1386.0 1003.7,1385.1 1007.3,1384.4 1010.9,1383.7 1014.5,1383.1 1017.7,1382.7 1020.6,1382.3 1022.1,1382.1 1023.4,1382.0 1024.7,1381.9 1025.9,1381.8 1027.2,1381.8 1028.7,1381.9 1031.4,1382.1 1034.4,1382.5 1037.7,1383.1 1041.1,1383.7 1044.4,1384.5 1047.7,1385.3 1051.1,1386.3 1054.5,1387.4 1057.9,1388.7 1061.3,1390.0 1064.6,1391.4 1068.0,1392.7 1071.3,1394.0 1074.5,1395.4 1077.7,1396.8 1081.0,1398.2 1084.4,1399.7 1088.0,1401.3 1093.2,1403.7 1098.7,1406.3 1104.5,1409.0 1110.4,1411.8 1116.4,1414.4 1122.3,1416.8 1128.2,1418.9 1134.2,1421.0 1140.2,1422.9 1146.3,1424.6 1152.4,1426.2 1158.5,1427.6 1164.5,1428.7 1170.5,1429.6 1176.6,1430.4 1182.6,1431.0 1188.7,1431.6 1194.7,1432.2 1200.7,1432.8 1206.7,1433.2 1212.7,1433.7 1218.8,1434.1 1224.8,1434.5 1230.8,1434.9 1236.8,1435.4 1242.9,1435.8 1248.9,1436.3 1254.9,1436.8 1261.0,1437.2 1267.0,1437.6 1273.1,1438.0 1279.3,1438.3 1285.4,1438.7 1291.5,1439.0 1297.5,1439.2 1303.2,1439.4 1307.9,1439.5 1312.5,1439.5 1317.0,1439.5 1321.4,1439.5 1325.8,1439.4 1330.3,1439.4 1334.8,1439.4 1339.4,1439.4 1344.0,1439.4 1348.5,1439.4 1353.0,1439.4 1357.4,1439.4 1361.4,1439.4 1365.3,1439.4 1369.1,1439.5 1372.9,1439.5 1376.7,1439.5 1380.6,1439.5 1384.4,1439.5 1388.3,1439.6 1392.1,1439.6 1396.0,1439.6 1399.8,1439.6 1403.7,1439.7 1407.6,1439.7 1411.4,1439.7 1415.3,1439.7 1419.1,1439.7 1423.0,1439.8 1426.8,1439.8 1430.6,1439.8 1434.3,1439.8 1438.0,1439.9 1441.8,1439.9 1445.8,1439.9 1450.0,1439.9 1456.4,1439.9 1463.9,1439.9 1471.6,1439.8 1478.9,1439.8 1484.9,1439.7 1489.0,1439.7 1489.7,1439.7 1490.3,1439.8 1490.8,1439.9 1491.2,1439.9 1491.6,1439.9 1492.0,1439.7 1492.4,1439.3 1492.8,1438.6 1493.1,1437.9 1493.4,1437.2 1493.7,1436.7 1494.0,1436.5 1494.3,1436.7 1494.6,1437.2 1494.9,1437.9 1495.2,1438.6 1495.6,1439.3 1496.0,1439.7 1496.4,1439.9 1496.8,1439.9 1497.2,1439.9 1497.7,1439.8 1498.3,1439.7 1499.0,1439.7 1502.1,1439.7 1506.5,1439.7 1511.6,1439.7 1517.2,1439.7 1522.8,1439.7 1528.0,1439.7 1532.8,1439.7 1537.7,1439.7 1542.5,1439.7 1547.3,1439.7 1552.2,1439.7 1557.0,1439.7 1561.8,1439.7 1566.7,1439.7 1571.5,1439.7 1576.3,1439.7 1581.2,1439.7 1586.0,1439.7 1591.2,1439.8 1596.8,1440.0 1602.4,1440.2 1607.6,1440.2 1611.9,1440.1 1615.0,1439.7 1615.7,1439.5 1616.3,1439.2 1616.7,1439.0 1617.2,1438.7 1617.6,1438.4 1618.0,1438.0 1618.5,1437.5 1619.0,1436.8 1619.6,1436.0 1620.0,1435.4 1620.5,1434.9 1621.0,1434.8 1621.5,1435.1 1622.1,1435.8 1622.6,1436.7 1623.0,1437.8 1623.5,1439.0 1624.0,1440.0 1624.5,1441.1 1625.0,1442.3 1625.5,1443.6 1626.0,1444.8 1626.5,1445.9 1627.0,1447.0 1627.4,1447.8 1627.8,1448.7 1628.3,1449.6 1628.7,1450.3 1629.1,1450.8 1629.5,1451.0 1629.9,1450.6 1630.4,1449.6 1630.7,1448.3 1631.1,1446.8 1631.5,1445.3 1632.0,1444.0 1632.4,1442.9 1632.9,1441.8 1633.4,1440.7 1633.9,1439.7 1634.4,1438.9 1635.0,1438.5 1635.4,1438.5 1635.8,1438.6 1636.2,1438.9 1636.7,1439.2 1637.3,1439.5 1638.0,1439.7 1641.0,1440.0 1645.3,1440.1 1650.4,1440.0 1655.9,1439.9 1661.3,1439.8 1666.4,1439.7 1671.1,1439.7 1675.9,1439.7 1680.6,1439.7 1685.3,1439.7 1690.1,1439.7 1694.8,1439.7 1699.5,1439.7 1704.3,1439.7 1709.0,1439.7 1713.7,1439.7 1718.5,1439.7 1723.2,1439.7 1727.9,1439.7 1732.7,1439.7 1737.4,1439.7 1742.1,1439.7 1746.9,1439.7 1751.6,1439.7 1756.3,1439.7 1761.1,1439.7 1765.8,1439.7 1770.5,1439.7 1775.3,1439.7 1780.0,1439.7 1784.7,1439.7 1789.5,1439.7 1794.2,1439.7 1798.9,1439.7 1803.7,1439.7 1808.4,1439.7 1813.1,1439.7 1817.9,1439.7 1822.6,1439.7 1827.3,1439.7 1832.1,1439.7 1836.8,1439.7 1841.5,1439.7 1846.3,1439.7 1851.0,1439.7 1855.7,1439.7 1860.5,1439.7 1865.2,1439.7 1869.9,1439.7 1874.7,1439.7 1879.4,1439.7 1884.1,1439.7 1888.9,1439.7 1893.6,1439.7 1898.7,1439.6 1904.3,1439.3 1909.9,1439.0 1915.0,1438.9 1919.2,1439.1 1922.0,1439.7 1922.5,1440.1 1922.8,1440.5 1923.1,1441.0 1923.3,1441.5 1923.6,1441.9 1924.0,1442.2 1925.3,1442.6 1927.0,1442.8 1929.0,1442.9 1931.0,1442.8 1932.7,1442.6 1934.0,1442.2 1934.4,1441.9 1934.7,1441.5 1934.9,1441.0 1935.2,1440.5 1935.5,1440.1 1936.0,1439.7 1938.7,1439.1 1942.7,1438.9 1947.6,1439.0 1953.0,1439.3 1958.3,1439.6 1963.2,1439.7 1967.7,1439.7 1972.3,1439.7 1976.8,1439.7 1981.3,1439.7 1985.9,1439.7 1990.4,1439.7 1994.9,1439.7 1999.5,1439.7 2004.0,1439.7 2008.5,1439.7 2013.1,1439.7 2017.6,1439.7 2022.1,1439.7 2026.7,1439.7 2031.2,1439.7 2035.7,1439.7 2040.3,1439.7 2044.8,1439.7 2049.6,1439.6 2054.8,1439.4 2060.0,1439.1 2064.8,1439.0 2068.9,1439.2 2072.0,1439.7 2072.9,1440.1 2073.5,1440.6 2074.1,1441.1 2074.6,1441.6 2075.2,1442.0 2076.0,1442.4 2078.1,1442.8 2080.7,1443.1 2083.7,1443.3 2086.6,1443.2 2089.2,1442.9 2091.0,1442.4 2091.6,1441.9 2092.1,1441.3 2092.5,1440.7 2092.8,1440.0 2093.1,1439.6 2093.5,1439.4 2093.9,1439.6 2094.3,1440.1 2094.6,1440.7 2095.0,1441.4 2095.5,1442.0 2096.0,1442.4 2096.9,1442.7 2097.9,1442.9 2099.0,1442.9 2100.1,1442.9 2101.1,1442.7 2102.0,1442.4 2102.5,1442.0 2103.0,1441.4 2103.4,1440.7 2103.7,1440.1 2104.1,1439.6 2104.5,1439.4 2104.9,1439.6 2105.2,1440.0 2105.5,1440.6 2105.9,1441.3 2106.3,1441.9 2107.0,1442.4 2109.6,1443.0 2113.4,1443.2 2117.9,1443.1 2122.8,1442.8 2127.7,1442.5 2132.2,1442.4 2136.5,1442.4 2140.7,1442.4 2144.9,1442.4 2149.1,1442.4 2153.3,1442.4 2157.5,1442.4 2161.7,1442.4 2165.9,1442.4 2170.1,1442.4 2174.3,1442.4 2178.5,1442.4 2182.8,1442.4 2187.0,1442.4 2191.2,1442.4 2195.4,1442.4 2199.6,1442.4 2203.8,1442.4 2208.0,1442.4"/>
</g>
<g class="tk" text-anchor="end" style="letter-spacing:-0.8px">
<text x="290.5" y="1474.8">0.0</text>
<text x="290.5" y="1196.6">0.2</text>
<text x="290.5" y="918.4">0.4</text>
<text x="290.5" y="640.2">0.6</text>
<text x="290.5" y="362.0">0.8</text>
<text x="290.5" y="83.8">1.0</text>
</g>
<g class="tk" text-anchor="middle" style="letter-spacing:-1.6px">
<text x="648.4" y="1559.8">400</text>
<text x="1037.9" y="1559.8">500</text>
<text x="1427.4" y="1559.8">600</text>
<text x="1816.9" y="1559.8">700</text>
<text x="2208.3" y="1559.8">800</text>
</g>
<text class="ti" text-anchor="middle" x="1243.3" y="1694.9" textLength="621" lengthAdjust="spacing">Wavelength (nm)</text>
<text class="ti" text-anchor="middle" transform="translate(77.3 789.2) rotate(-90)" textLength="437" lengthAdjust="spacing">Absorbance</text>
<g class="lg">
<line x1="1756.7" y1="130.0" x2="1913.6" y2="130.0" stroke="#000000" stroke-width="5.3"/>
<text x="1928.4" y="154.0">RhB</text>
<line x1="1756.7" y1="214.6" x2="1913.6" y2="214.6" stroke="#ff0000" stroke-width="5.3"/>
<text x="1928.4" y="238.6">0 min</text>
<line x1="1756.7" y1="299.1" x2="1913.6" y2="299.1" stroke="#00ff00" stroke-width="5.3"/>
<text x="1928.4" y="323.1">3 min</text>
<line x1="1756.7" y1="383.6" x2="1913.6" y2="383.6" stroke="#0000ff" stroke-width="5.3"/>
<text x="1928.4" y="407.6">6 min</text>
<line x1="1756.7" y1="468.2" x2="1913.6" y2="468.2" stroke="#00ffff" stroke-width="5.3"/>
<text x="1928.4" y="492.2">9 min</text>
<line x1="1756.7" y1="552.8" x2="1913.6" y2="552.8" stroke="#ff00ff" stroke-width="5.3"/>
<text x="1928.4" y="576.8">12 min</text>
<line x1="1756.7" y1="637.3" x2="1913.6" y2="637.3" stroke="#9400ff" stroke-width="5.3"/>
<text x="1928.4" y="661.3">15 min</text>
<line x1="1756.7" y1="721.9" x2="1913.6" y2="721.9" stroke="#404040" stroke-width="5.3"/>
<text x="1928.4" y="745.9">30 min</text>
</g>
</svg></body></html>
